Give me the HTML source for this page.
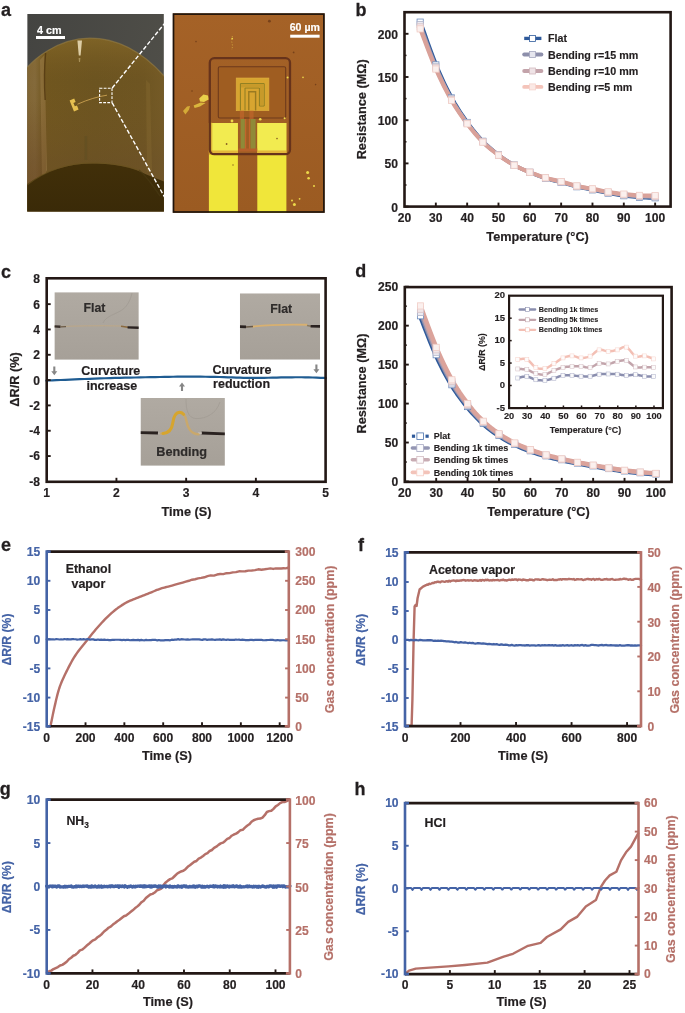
<!DOCTYPE html>
<html lang="en">
<head>
<meta charset="utf-8">
<title>Flexible temperature sensor characterisation</title>
<style>
html,body{margin:0;padding:0;background:#fff;}
body{width:685px;height:1013px;overflow:hidden;}
svg{display:block;font-family:"Liberation Sans",sans-serif;}
</style>
</head>
<body>
<svg width="685" height="1013" viewBox="0 0 685 1013">
<defs><clipPath id="clipA1"><rect x="27.2" y="13.9" width="136.7" height="197.7"/></clipPath><clipPath id="clipA2"><rect x="172.7" y="13.3" width="152" height="199.5"/></clipPath><clipPath id="clipC1"><rect x="54.4" y="292.2" width="84.4" height="67.6"/></clipPath><clipPath id="clipC2"><rect x="239.9" y="293.3" width="80.2" height="66.4"/></clipPath><clipPath id="clipC3"><rect x="140.5" y="397.9" width="84.4" height="67.9"/></clipPath><linearGradient id="gSky" x1="0" y1="0" x2="1" y2="0.3"><stop offset="0" stop-color="#444441"/><stop offset="1" stop-color="#4f4e48"/></linearGradient><linearGradient id="gCyl" x1="0" y1="0" x2="1" y2="0"><stop offset="0" stop-color="#7f632f"/><stop offset="0.10" stop-color="#846a3b"/><stop offset="0.16" stop-color="#70561f"/><stop offset="0.5" stop-color="#6c5420"/><stop offset="0.82" stop-color="#6e5522"/><stop offset="1" stop-color="#765c28"/></linearGradient><linearGradient id="gCylV" x1="0" y1="0" x2="0" y2="1"><stop offset="0" stop-color="#9a7a30" stop-opacity="0.4"/><stop offset="0.25" stop-color="#7a5b20" stop-opacity="0"/><stop offset="0.7" stop-color="#6a4c2c" stop-opacity="0.3"/><stop offset="1" stop-color="#6a4c2c" stop-opacity="0.4"/></linearGradient><linearGradient id="gHole" x1="0" y1="0" x2="0" y2="1"><stop offset="0" stop-color="#412f09"/><stop offset="1" stop-color="#3a2a08"/></linearGradient><linearGradient id="gMic" x1="0" y1="0" x2="0" y2="1"><stop offset="0" stop-color="#a56227"/><stop offset="1" stop-color="#9b5b22"/></linearGradient><linearGradient id="gGrey" x1="0" y1="0" x2="0" y2="1"><stop offset="0" stop-color="#b0aaa2"/><stop offset="1" stop-color="#a6a098"/></linearGradient><linearGradient id="gLL" x1="0" y1="0" x2="0" y2="1"><stop offset="0" stop-color="#6a4420" stop-opacity="0"/><stop offset="1" stop-color="#6a4420" stop-opacity="0.4"/></linearGradient></defs>
<rect width="685" height="1013" fill="#ffffff"/>
<g id="panel-a"><text x="0.9" y="16.1" font-size="18" font-weight="bold" text-anchor="start" fill="#231f20" stroke="#231f20" stroke-width="0.27">a</text><g clip-path="url(#clipA1)"><rect x="27.2" y="13.9" width="136.7" height="197.7" fill="url(#gSky)" stroke="none" stroke-width="1"/><path d="M20 212 L20 77 C 30 60, 58 38.2, 90 38.2 C 122 38.2, 148 56, 170 83 L170 212 Z" fill="url(#gCyl)"/><path d="M20 212 L20 77 C 30 60, 58 38.2, 90 38.2 C 122 38.2, 148 56, 170 83 L170 212 Z" fill="url(#gCylV)"/><path d="M20 77 C 30 60, 58 38.2, 90 38.2 C 122 38.2, 148 56, 170 83" stroke="#9a8246" stroke-width="1.2" fill="none" opacity="0.55"/><path d="M40 60 L44.5 55 L45.5 100 L47 170 L42 180 Z" fill="#9a7c48" opacity="0.55"/><path d="M27 100 L47 100 L46 172 L27 190 Z" fill="url(#gLL)"/><path d="M45.6 53 C 44 70, 44.2 84, 45.2 100" stroke="#553b12" stroke-width="1.4" fill="none" opacity="0.9"/><path d="M146 80 L150 84 L152 170 L147 172 Z" fill="#8a6c35" opacity="0.35"/><path d="M77.4 40.4 L82 40.6 L80.6 55.6 L78.8 55.6 Z" fill="#e8d9b4" opacity="0.9"/><path d="M78.6 58 L80.4 58 L80 62 L79 62 Z" fill="#c9b27a" opacity="0.6"/><path d="M20 212 L20 190 C 40 172, 65 163.4, 93 163.4 C 116 163.4, 134 168, 141 172 C 150 176.5, 158 179, 170 184 L170 212 Z" fill="url(#gHole)"/><path d="M27 185 C 45 171, 68 163, 93 163 C 116 163, 134 167.6, 141 171.6" stroke="#6a5320" stroke-width="1.2" fill="none" opacity="0.7"/><path d="M139 170 C 146 176, 152 184, 160 196" stroke="#4a3a14" stroke-width="1.4" fill="none" opacity="0.6"/><rect x="84.6" y="136" width="2.6" height="24" fill="#5d4d22" stroke="none" stroke-width="1" opacity="0.5"/><path d="M77.5 104.2 C 88 99.5, 98 96.5, 107 95.2" stroke="#c9a050" stroke-width="0.9" fill="none"/><path d="M69.6 100.4 L74.2 98.6 L75.6 102 L73.4 103 L74.8 106.2 L77 105.4 L78.6 109.4 L74 111.4 L72.4 107.6 Z" fill="#e6c050"/><rect x="99.6" y="88.2" width="12.4" height="14.4" fill="none" stroke="#ffffff" stroke-width="1.1" stroke-dasharray="2.8 1.3"/></g><line x1="112.2" y1="88" x2="172.6" y2="13.6" stroke="#ffffff" stroke-width="1.4" stroke-dasharray="4.2 2.0"/><line x1="112.2" y1="102.8" x2="172.6" y2="211.6" stroke="#ffffff" stroke-width="1.4" stroke-dasharray="4.2 2.0"/><rect x="36" y="36" width="29" height="3" fill="#ffffff" stroke="none" stroke-width="1"/><text x="49.2" y="34" font-size="10.8" font-weight="bold" text-anchor="middle" fill="#ffffff" stroke="#ffffff" stroke-width="0.16">4 cm</text><g clip-path="url(#clipA2)"><rect x="172.7" y="13.2" width="152" height="200" fill="url(#gMic)" stroke="none" stroke-width="1"/><rect x="208.9" y="123" width="29" height="90" fill="#f0e63a" stroke="none" stroke-width="1"/><rect x="257.3" y="123" width="29.1" height="90" fill="#f0e63a" stroke="none" stroke-width="1"/><rect x="208.9" y="123" width="29" height="30.4" fill="#f4ee62" stroke="none" stroke-width="1" opacity="0.55"/><rect x="257.3" y="123" width="29.1" height="30.4" fill="#f4ee62" stroke="none" stroke-width="1" opacity="0.55"/><rect x="208.9" y="150.5" width="29" height="4" fill="#d98c28" stroke="none" stroke-width="1" opacity="0.55"/><rect x="257.3" y="150.5" width="29.1" height="4" fill="#d98c28" stroke="none" stroke-width="1" opacity="0.55"/><rect x="208.9" y="122.4" width="3.4" height="32" fill="#c98c28" stroke="none" stroke-width="1" opacity="0.6"/><rect x="218.3" y="66.8" width="67.4" height="51.2" fill="#9f5d21" stroke="#6e3a1c" stroke-width="1.1" rx="1.5"/><rect x="236.2" y="78" width="32.7" height="32.7" fill="#d8a530" stroke="none" stroke-width="1"/><rect x="236.2" y="78" width="32.7" height="32.7" fill="none" stroke="#e0b040" stroke-width="0.6"/><path d="M240.4 110.5 L240.4 83.6 L264.2 83.6 L264.2 106 L259.4 106 L259.4 88 L245 88 L245 110.5" stroke="#8c7d22" stroke-width="1.0" fill="none"/><path d="M248.8 110.5 L248.8 91.8 L255.6 91.8 L255.6 110.5" stroke="#9a7a20" stroke-width="1.4" fill="none"/><rect x="241" y="84.2" width="22.6" height="3.2" fill="#c79a2a" stroke="none" stroke-width="1"/><rect x="260" y="84.2" width="3.6" height="21.2" fill="#c79a2a" stroke="none" stroke-width="1"/><rect x="239.8" y="110.7" width="4.2" height="8.6" fill="#c0662c" stroke="none" stroke-width="1" opacity="0.7"/><rect x="249.4" y="110.7" width="4.2" height="8.6" fill="#c0662c" stroke="none" stroke-width="1" opacity="0.7"/><rect x="240.6" y="119" width="4.2" height="30" fill="#8f8a38" stroke="none" stroke-width="1"/><rect x="250.4" y="119" width="5.2" height="30" fill="#8f8a38" stroke="none" stroke-width="1"/><rect x="245" y="119" width="1.2" height="30" fill="#c0662c" stroke="none" stroke-width="1"/><rect x="248.9" y="119" width="1.2" height="30" fill="#c0662c" stroke="none" stroke-width="1"/><rect x="238.2" y="148.5" width="19" height="3" fill="#b5602a" stroke="none" stroke-width="1"/><rect x="209.8" y="58.2" width="80.2" height="96" fill="none" stroke="#67331b" stroke-width="2.3" rx="4.5"/><path d="M199.2 98.6 L203.4 94.6 L208 95.4 L208.6 99.6 L204 102 L200 101.6 Z" fill="#e9d04a"/><path d="M183 111 L187 106.6 L190 106 L189 109.8 L185.4 114.4 Z" fill="#d9b23a" opacity="0.9"/><path d="M193.6 105.4 L200.6 102.6 L205.6 103 L200 106.4 L194.6 108 Z" fill="#e0c040" opacity="0.9"/><circle cx="307.6" cy="172.4" r="1.5" fill="#ecd84a"/><circle cx="308.6" cy="178.2" r="1.3" fill="#ecd84a"/><circle cx="314.0" cy="186.0" r="1.0" fill="#ecd84a"/><circle cx="294.4" cy="204.6" r="1.5" fill="#ecd84a"/><circle cx="292.0" cy="200.6" r="1.0" fill="#ecd84a"/><circle cx="299.6" cy="198.8" r="0.9" fill="#ecd84a"/><circle cx="303.0" cy="77.4" r="0.8" fill="#ecd84a"/><circle cx="287.6" cy="77.6" r="1.0" fill="#ecd84a"/><circle cx="232.2" cy="38.6" r="0.9" fill="#ecd84a"/><circle cx="260.2" cy="119.2" r="1.3" fill="#ecd84a"/><circle cx="284.6" cy="118.2" r="1.0" fill="#ecd84a"/><circle cx="232.0" cy="121.0" r="1.4" fill="#ecd84a"/><circle cx="269.4" cy="21.2" r="1.4" fill="#6b3a18" opacity="0.8"/><circle cx="196" cy="41.6" r="0.8" fill="#6b3a18" opacity="0.8"/><circle cx="293.6" cy="52.4" r="0.9" fill="#6b3a18" opacity="0.8"/><circle cx="315.6" cy="84.6" r="0.8" fill="#6b3a18" opacity="0.8"/><circle cx="226.6" cy="144.0" r="0.9" fill="#6b3a18" opacity="0.8"/><circle cx="277.0" cy="138.6" r="0.8" fill="#6b3a18" opacity="0.8"/><circle cx="233.0" cy="165.0" r="0.7" fill="#6b3a18" opacity="0.8"/><circle cx="192.0" cy="91.0" r="0.8" fill="#6b3a18" opacity="0.8"/><path d="M232.4 36 L231.6 41 L232.6 46 L231.8 50" stroke="#d9b040" stroke-width="1.0" fill="none" opacity="0.7" stroke-dasharray="1.2 1.6"/></g><rect x="173.5" y="14.1" width="150.4" height="197.9" fill="none" stroke="#1f140c" stroke-width="1.7"/><rect x="290.2" y="34.7" width="29.4" height="3" fill="#ffffff" stroke="none" stroke-width="1"/><text x="304.8" y="30.6" font-size="10.6" font-weight="bold" text-anchor="middle" fill="#ffffff" stroke="#ffffff" stroke-width="0.16">60 µm</text></g>
<g id="panel-b"><text x="355.5" y="16.2" font-size="18" font-weight="bold" text-anchor="start" fill="#231f20" stroke="#231f20" stroke-width="0.27">b</text><path d="M420.87 22.44 L422.57 27.2 L424.93 33.89 L427.72 41.76 L430.73 50.09 L433.74 58.15 L436.53 65.2 L439.14 71.37 L441.75 77.24 L444.36 82.85 L446.97 88.2 L449.58 93.31 L452.19 98.21 L454.81 102.85 L457.42 107.23 L460.03 111.36 L462.64 115.3 L465.25 119.08 L467.86 122.75 L470.47 126.28 L473.08 129.65 L475.69 132.86 L478.3 135.91 L480.91 138.82 L483.52 141.58 L486.14 144.17 L488.75 146.59 L491.36 148.85 L493.97 151 L496.58 153.06 L499.19 155.06 L501.8 157 L504.41 158.86 L507.02 160.63 L509.63 162.32 L512.24 163.92 L514.86 165.43 L517.47 166.83 L520.08 168.13 L522.69 169.34 L525.3 170.48 L527.91 171.59 L530.52 172.69 L533.13 173.76 L535.74 174.81 L538.35 175.82 L540.96 176.78 L543.57 177.7 L546.19 178.56 L548.8 179.35 L551.41 180.06 L554.02 180.73 L556.63 181.38 L559.24 182.03 L561.85 182.71 L564.46 183.43 L567.07 184.18 L569.68 184.93 L572.29 185.67 L574.9 186.38 L577.52 187.03 L580.13 187.61 L582.74 188.15 L585.35 188.65 L587.96 189.13 L590.57 189.62 L593.18 190.14 L595.79 190.68 L598.4 191.25 L601.01 191.81 L603.62 192.37 L606.23 192.91 L608.85 193.42 L611.46 193.91 L614.07 194.38 L616.68 194.83 L619.29 195.25 L621.9 195.65 L624.51 196.01 L627.12 196.34 L629.73 196.65 L632.34 196.92 L634.95 197.17 L637.56 197.38 L640.18 197.57 L642.97 197.72 L645.98 197.84 L648.99 197.93 L651.78 197.99 L654.14 198.04 L655.84 198.09" fill="none" stroke="#2f5a9b" stroke-width="3.4" stroke-linejoin="round" stroke-linecap="round"/><path d="M420.17 24.49 L421.87 29.16 L424.23 35.7 L427.02 43.4 L430.03 51.55 L433.04 59.44 L435.83 66.36 L438.44 72.4 L441.05 78.17 L443.66 83.68 L446.27 88.94 L448.88 93.97 L451.5 98.79 L454.11 103.35 L456.72 107.65 L459.33 111.72 L461.94 115.6 L464.55 119.32 L467.16 122.93 L469.77 126.42 L472.38 129.75 L474.99 132.93 L477.6 135.96 L480.21 138.85 L482.82 141.58 L485.44 144.15 L488.05 146.54 L490.66 148.77 L493.27 150.89 L495.88 152.93 L498.49 154.91 L501.1 156.83 L503.71 158.67 L506.32 160.42 L508.93 162.08 L511.54 163.66 L514.15 165.16 L516.77 166.55 L519.38 167.83 L521.99 169.02 L524.6 170.15 L527.21 171.25 L529.82 172.33 L532.43 173.39 L535.04 174.41 L537.65 175.4 L540.26 176.34 L542.87 177.24 L545.49 178.08 L548.1 178.85 L550.71 179.54 L553.32 180.18 L555.93 180.81 L558.54 181.44 L561.15 182.11 L563.76 182.82 L566.37 183.57 L568.98 184.33 L571.59 185.07 L574.2 185.78 L576.82 186.43 L579.43 187.01 L582.04 187.53 L584.65 188.02 L587.26 188.5 L589.87 188.97 L592.48 189.48 L595.09 190.01 L597.7 190.56 L600.31 191.11 L602.92 191.65 L605.53 192.18 L608.14 192.67 L610.76 193.13 L613.37 193.58 L615.98 194.01 L618.59 194.42 L621.2 194.79 L623.81 195.14 L626.42 195.45 L629.03 195.74 L631.64 196 L634.25 196.23 L636.86 196.43 L639.48 196.6 L642.27 196.74 L645.28 196.84 L648.29 196.91 L651.08 196.96 L653.44 197 L655.14 197.03" fill="none" stroke="#8d8fab" stroke-width="3.6" stroke-linejoin="round" stroke-linecap="round"/><path d="M420.17 26.85 L421.87 31.41 L424.23 37.81 L427.02 45.34 L430.03 53.31 L433.04 61.03 L435.83 67.81 L438.44 73.74 L441.05 79.4 L443.66 84.81 L446.27 89.98 L448.88 94.93 L451.5 99.66 L454.11 104.15 L456.72 108.38 L459.33 112.37 L461.94 116.19 L464.55 119.85 L467.16 123.41 L469.77 126.86 L472.38 130.16 L474.99 133.31 L477.6 136.32 L480.21 139.18 L482.82 141.89 L485.44 144.42 L488.05 146.78 L490.66 149 L493.27 151.09 L495.88 153.1 L498.49 155.06 L501.1 156.96 L503.71 158.78 L506.32 160.51 L508.93 162.15 L511.54 163.71 L514.15 165.19 L516.77 166.56 L519.38 167.83 L521.99 169.01 L524.6 170.13 L527.21 171.2 L529.82 172.26 L532.43 173.31 L535.04 174.31 L537.65 175.28 L540.26 176.2 L542.87 177.08 L545.49 177.9 L548.1 178.64 L550.71 179.31 L553.32 179.93 L555.93 180.53 L558.54 181.15 L561.15 181.8 L563.76 182.51 L566.37 183.26 L568.98 184.02 L571.59 184.77 L574.2 185.48 L576.82 186.12 L579.43 186.7 L582.04 187.21 L584.65 187.69 L587.26 188.16 L589.87 188.62 L592.48 189.11 L595.09 189.63 L597.7 190.17 L600.31 190.7 L602.92 191.23 L605.53 191.74 L608.14 192.21 L610.76 192.66 L613.37 193.09 L615.98 193.5 L618.59 193.88 L621.2 194.24 L623.81 194.56 L626.42 194.86 L629.03 195.13 L631.64 195.38 L634.25 195.59 L636.86 195.78 L639.48 195.94 L642.27 196.06 L645.28 196.14 L648.29 196.19 L651.08 196.23 L653.44 196.25 L655.14 196.28" fill="none" stroke="#c3a3aa" stroke-width="3.8" stroke-linejoin="round" stroke-linecap="round"/><path d="M420.17 28.88 L421.87 33.35 L424.23 39.62 L427.02 47 L430.03 54.82 L433.04 62.4 L435.83 69.05 L438.44 74.88 L441.05 80.45 L443.66 85.78 L446.27 90.88 L448.88 95.75 L451.5 100.41 L454.11 104.84 L456.72 109 L459.33 112.94 L461.94 116.7 L464.55 120.31 L467.16 123.83 L469.77 127.24 L472.38 130.51 L474.99 133.64 L477.6 136.62 L480.21 139.46 L482.82 142.15 L485.44 144.66 L488.05 147 L490.66 149.19 L493.27 151.26 L495.88 153.25 L498.49 155.19 L501.1 157.07 L503.71 158.87 L506.32 160.58 L508.93 162.21 L511.54 163.75 L514.15 165.21 L516.77 166.57 L519.38 167.83 L521.99 168.99 L524.6 170.1 L527.21 171.17 L529.82 172.21 L532.43 173.24 L535.04 174.23 L537.65 175.18 L540.26 176.08 L542.87 176.94 L545.49 177.74 L548.1 178.47 L550.71 179.12 L553.32 179.72 L555.93 180.3 L558.54 180.9 L561.15 181.54 L563.76 182.25 L566.37 183 L568.98 183.76 L571.59 184.51 L574.2 185.22 L576.82 185.86 L579.43 186.43 L582.04 186.94 L584.65 187.41 L587.26 187.87 L589.87 188.32 L592.48 188.8 L595.09 189.31 L597.7 189.83 L600.31 190.36 L602.92 190.87 L605.53 191.37 L608.14 191.83 L610.76 192.26 L613.37 192.67 L615.98 193.06 L618.59 193.42 L621.2 193.76 L623.81 194.07 L626.42 194.35 L629.03 194.61 L631.64 194.84 L634.25 195.05 L636.86 195.22 L639.48 195.37 L642.27 195.47 L645.28 195.54 L648.29 195.58 L651.08 195.6 L653.44 195.61 L655.14 195.63" fill="none" stroke="#d9a199" stroke-width="4" stroke-linejoin="round" stroke-linecap="round"/><rect x="417.06" y="19.04" width="6.2" height="6.2" fill="#ffffff" stroke="#6d8cbd" stroke-width="0.8"/><rect x="432.73" y="61.8" width="6.2" height="6.2" fill="#ffffff" stroke="#6d8cbd" stroke-width="0.8"/><rect x="448.39" y="94.81" width="6.2" height="6.2" fill="#ffffff" stroke="#6d8cbd" stroke-width="0.8"/><rect x="464.06" y="119.35" width="6.2" height="6.2" fill="#ffffff" stroke="#6d8cbd" stroke-width="0.8"/><rect x="479.72" y="138.18" width="6.2" height="6.2" fill="#ffffff" stroke="#6d8cbd" stroke-width="0.8"/><rect x="495.39" y="151.66" width="6.2" height="6.2" fill="#ffffff" stroke="#6d8cbd" stroke-width="0.8"/><rect x="511.05" y="162.03" width="6.2" height="6.2" fill="#ffffff" stroke="#6d8cbd" stroke-width="0.8"/><rect x="526.72" y="169.29" width="6.2" height="6.2" fill="#ffffff" stroke="#6d8cbd" stroke-width="0.8"/><rect x="542.38" y="175.16" width="6.2" height="6.2" fill="#ffffff" stroke="#6d8cbd" stroke-width="0.8"/><rect x="558.05" y="179.31" width="6.2" height="6.2" fill="#ffffff" stroke="#6d8cbd" stroke-width="0.8"/><rect x="573.72" y="183.63" width="6.2" height="6.2" fill="#ffffff" stroke="#6d8cbd" stroke-width="0.8"/><rect x="589.38" y="186.74" width="6.2" height="6.2" fill="#ffffff" stroke="#6d8cbd" stroke-width="0.8"/><rect x="605.04" y="190.02" width="6.2" height="6.2" fill="#ffffff" stroke="#6d8cbd" stroke-width="0.8"/><rect x="620.71" y="192.61" width="6.2" height="6.2" fill="#ffffff" stroke="#6d8cbd" stroke-width="0.8"/><rect x="636.38" y="194.17" width="6.2" height="6.2" fill="#ffffff" stroke="#6d8cbd" stroke-width="0.8"/><rect x="652.04" y="194.69" width="6.2" height="6.2" fill="#ffffff" stroke="#6d8cbd" stroke-width="0.8"/><rect x="417.06" y="21.39" width="6.2" height="6.2" fill="#ecebf1" stroke="#b3b4c9" stroke-width="0.8"/><rect x="432.73" y="63.26" width="6.2" height="6.2" fill="#ecebf1" stroke="#b3b4c9" stroke-width="0.8"/><rect x="448.39" y="95.69" width="6.2" height="6.2" fill="#ecebf1" stroke="#b3b4c9" stroke-width="0.8"/><rect x="464.06" y="119.83" width="6.2" height="6.2" fill="#ecebf1" stroke="#b3b4c9" stroke-width="0.8"/><rect x="479.72" y="138.48" width="6.2" height="6.2" fill="#ecebf1" stroke="#b3b4c9" stroke-width="0.8"/><rect x="495.39" y="151.81" width="6.2" height="6.2" fill="#ecebf1" stroke="#b3b4c9" stroke-width="0.8"/><rect x="511.05" y="162.06" width="6.2" height="6.2" fill="#ecebf1" stroke="#b3b4c9" stroke-width="0.8"/><rect x="526.72" y="169.23" width="6.2" height="6.2" fill="#ecebf1" stroke="#b3b4c9" stroke-width="0.8"/><rect x="542.38" y="174.98" width="6.2" height="6.2" fill="#ecebf1" stroke="#b3b4c9" stroke-width="0.8"/><rect x="558.05" y="179.01" width="6.2" height="6.2" fill="#ecebf1" stroke="#b3b4c9" stroke-width="0.8"/><rect x="573.72" y="183.33" width="6.2" height="6.2" fill="#ecebf1" stroke="#b3b4c9" stroke-width="0.8"/><rect x="589.38" y="186.38" width="6.2" height="6.2" fill="#ecebf1" stroke="#b3b4c9" stroke-width="0.8"/><rect x="605.04" y="189.57" width="6.2" height="6.2" fill="#ecebf1" stroke="#b3b4c9" stroke-width="0.8"/><rect x="620.71" y="192.04" width="6.2" height="6.2" fill="#ecebf1" stroke="#b3b4c9" stroke-width="0.8"/><rect x="636.38" y="193.5" width="6.2" height="6.2" fill="#ecebf1" stroke="#b3b4c9" stroke-width="0.8"/><rect x="652.04" y="193.93" width="6.2" height="6.2" fill="#ecebf1" stroke="#b3b4c9" stroke-width="0.8"/><rect x="417.06" y="23.75" width="6.2" height="6.2" fill="#f1e6e8" stroke="#d9c4c8" stroke-width="0.8"/><rect x="432.73" y="64.71" width="6.2" height="6.2" fill="#f1e6e8" stroke="#d9c4c8" stroke-width="0.8"/><rect x="448.39" y="96.56" width="6.2" height="6.2" fill="#f1e6e8" stroke="#d9c4c8" stroke-width="0.8"/><rect x="464.06" y="120.31" width="6.2" height="6.2" fill="#f1e6e8" stroke="#d9c4c8" stroke-width="0.8"/><rect x="479.72" y="138.79" width="6.2" height="6.2" fill="#f1e6e8" stroke="#d9c4c8" stroke-width="0.8"/><rect x="495.39" y="151.96" width="6.2" height="6.2" fill="#f1e6e8" stroke="#d9c4c8" stroke-width="0.8"/><rect x="511.05" y="162.09" width="6.2" height="6.2" fill="#f1e6e8" stroke="#d9c4c8" stroke-width="0.8"/><rect x="526.72" y="169.16" width="6.2" height="6.2" fill="#f1e6e8" stroke="#d9c4c8" stroke-width="0.8"/><rect x="542.38" y="174.8" width="6.2" height="6.2" fill="#f1e6e8" stroke="#d9c4c8" stroke-width="0.8"/><rect x="558.05" y="178.7" width="6.2" height="6.2" fill="#f1e6e8" stroke="#d9c4c8" stroke-width="0.8"/><rect x="573.72" y="183.02" width="6.2" height="6.2" fill="#f1e6e8" stroke="#d9c4c8" stroke-width="0.8"/><rect x="589.38" y="186.01" width="6.2" height="6.2" fill="#f1e6e8" stroke="#d9c4c8" stroke-width="0.8"/><rect x="605.04" y="189.11" width="6.2" height="6.2" fill="#f1e6e8" stroke="#d9c4c8" stroke-width="0.8"/><rect x="620.71" y="191.46" width="6.2" height="6.2" fill="#f1e6e8" stroke="#d9c4c8" stroke-width="0.8"/><rect x="636.38" y="192.84" width="6.2" height="6.2" fill="#f1e6e8" stroke="#d9c4c8" stroke-width="0.8"/><rect x="652.04" y="193.18" width="6.2" height="6.2" fill="#f1e6e8" stroke="#d9c4c8" stroke-width="0.8"/><rect x="417.06" y="25.78" width="6.2" height="6.2" fill="#fbf0ee" stroke="#f1cdc6" stroke-width="0.8"/><rect x="432.73" y="65.95" width="6.2" height="6.2" fill="#fbf0ee" stroke="#f1cdc6" stroke-width="0.8"/><rect x="448.39" y="97.31" width="6.2" height="6.2" fill="#fbf0ee" stroke="#f1cdc6" stroke-width="0.8"/><rect x="464.06" y="120.73" width="6.2" height="6.2" fill="#fbf0ee" stroke="#f1cdc6" stroke-width="0.8"/><rect x="479.72" y="139.05" width="6.2" height="6.2" fill="#fbf0ee" stroke="#f1cdc6" stroke-width="0.8"/><rect x="495.39" y="152.09" width="6.2" height="6.2" fill="#fbf0ee" stroke="#f1cdc6" stroke-width="0.8"/><rect x="511.05" y="162.11" width="6.2" height="6.2" fill="#fbf0ee" stroke="#f1cdc6" stroke-width="0.8"/><rect x="526.72" y="169.11" width="6.2" height="6.2" fill="#fbf0ee" stroke="#f1cdc6" stroke-width="0.8"/><rect x="542.38" y="174.64" width="6.2" height="6.2" fill="#fbf0ee" stroke="#f1cdc6" stroke-width="0.8"/><rect x="558.05" y="178.44" width="6.2" height="6.2" fill="#fbf0ee" stroke="#f1cdc6" stroke-width="0.8"/><rect x="573.72" y="182.76" width="6.2" height="6.2" fill="#fbf0ee" stroke="#f1cdc6" stroke-width="0.8"/><rect x="589.38" y="185.7" width="6.2" height="6.2" fill="#fbf0ee" stroke="#f1cdc6" stroke-width="0.8"/><rect x="605.04" y="188.73" width="6.2" height="6.2" fill="#fbf0ee" stroke="#f1cdc6" stroke-width="0.8"/><rect x="620.71" y="190.97" width="6.2" height="6.2" fill="#fbf0ee" stroke="#f1cdc6" stroke-width="0.8"/><rect x="636.38" y="192.27" width="6.2" height="6.2" fill="#fbf0ee" stroke="#f1cdc6" stroke-width="0.8"/><rect x="652.04" y="192.53" width="6.2" height="6.2" fill="#fbf0ee" stroke="#f1cdc6" stroke-width="0.8"/><rect x="404.5" y="12.2" width="266.1" height="194.4" fill="none" stroke="#231815" stroke-width="2.6"/><line x1="404.5" y1="206.6" x2="408.5" y2="206.6" stroke="#231815" stroke-width="1.9"/><line x1="404.5" y1="163.4" x2="408.5" y2="163.4" stroke="#231815" stroke-width="1.9"/><line x1="404.5" y1="120.2" x2="408.5" y2="120.2" stroke="#231815" stroke-width="1.9"/><line x1="404.5" y1="77" x2="408.5" y2="77" stroke="#231815" stroke-width="1.9"/><line x1="404.5" y1="33.8" x2="408.5" y2="33.8" stroke="#231815" stroke-width="1.9"/><line x1="404.5" y1="185" x2="406.5" y2="185" stroke="#231815" stroke-width="1.5"/><line x1="404.5" y1="141.8" x2="406.5" y2="141.8" stroke="#231815" stroke-width="1.5"/><line x1="404.5" y1="98.6" x2="406.5" y2="98.6" stroke="#231815" stroke-width="1.5"/><line x1="404.5" y1="55.4" x2="406.5" y2="55.4" stroke="#231815" stroke-width="1.5"/><line x1="435.83" y1="206.6" x2="435.83" y2="202.6" stroke="#231815" stroke-width="1.9"/><line x1="467.16" y1="206.6" x2="467.16" y2="202.6" stroke="#231815" stroke-width="1.9"/><line x1="498.49" y1="206.6" x2="498.49" y2="202.6" stroke="#231815" stroke-width="1.9"/><line x1="529.82" y1="206.6" x2="529.82" y2="202.6" stroke="#231815" stroke-width="1.9"/><line x1="561.15" y1="206.6" x2="561.15" y2="202.6" stroke="#231815" stroke-width="1.9"/><line x1="592.48" y1="206.6" x2="592.48" y2="202.6" stroke="#231815" stroke-width="1.9"/><line x1="623.81" y1="206.6" x2="623.81" y2="202.6" stroke="#231815" stroke-width="1.9"/><line x1="655.14" y1="206.6" x2="655.14" y2="202.6" stroke="#231815" stroke-width="1.9"/><text x="397.9" y="211.63" font-size="12.1" font-weight="bold" text-anchor="end" fill="#231f20" stroke="#231f20" stroke-width="0.18">0</text><text x="397.9" y="168.43" font-size="12.1" font-weight="bold" text-anchor="end" fill="#231f20" stroke="#231f20" stroke-width="0.18">50</text><text x="397.9" y="125.23" font-size="12.1" font-weight="bold" text-anchor="end" fill="#231f20" stroke="#231f20" stroke-width="0.18">100</text><text x="397.9" y="82.03" font-size="12.1" font-weight="bold" text-anchor="end" fill="#231f20" stroke="#231f20" stroke-width="0.18">150</text><text x="397.9" y="38.83" font-size="12.1" font-weight="bold" text-anchor="end" fill="#231f20" stroke="#231f20" stroke-width="0.18">200</text><text x="404.5" y="221.8" font-size="12.1" font-weight="bold" text-anchor="middle" fill="#231f20" stroke="#231f20" stroke-width="0.18">20</text><text x="435.83" y="221.8" font-size="12.1" font-weight="bold" text-anchor="middle" fill="#231f20" stroke="#231f20" stroke-width="0.18">30</text><text x="467.16" y="221.8" font-size="12.1" font-weight="bold" text-anchor="middle" fill="#231f20" stroke="#231f20" stroke-width="0.18">40</text><text x="498.49" y="221.8" font-size="12.1" font-weight="bold" text-anchor="middle" fill="#231f20" stroke="#231f20" stroke-width="0.18">50</text><text x="529.82" y="221.8" font-size="12.1" font-weight="bold" text-anchor="middle" fill="#231f20" stroke="#231f20" stroke-width="0.18">60</text><text x="561.15" y="221.8" font-size="12.1" font-weight="bold" text-anchor="middle" fill="#231f20" stroke="#231f20" stroke-width="0.18">70</text><text x="592.48" y="221.8" font-size="12.1" font-weight="bold" text-anchor="middle" fill="#231f20" stroke="#231f20" stroke-width="0.18">80</text><text x="623.81" y="221.8" font-size="12.1" font-weight="bold" text-anchor="middle" fill="#231f20" stroke="#231f20" stroke-width="0.18">90</text><text x="655.14" y="221.8" font-size="12.1" font-weight="bold" text-anchor="middle" fill="#231f20" stroke="#231f20" stroke-width="0.18">100</text><text x="537.6" y="241" font-size="12.2" font-weight="bold" text-anchor="middle" fill="#231f20" stroke="#231f20" stroke-width="0.18" textLength="102.53" lengthAdjust="spacingAndGlyphs">Temperature (°C)</text><text x="366.3" y="109.3" font-size="12.2" font-weight="bold" text-anchor="middle" fill="#231f20" stroke="#231f20" stroke-width="0.18" transform="rotate(-90 366.3 109.3)" textLength="100.11" lengthAdjust="spacingAndGlyphs">Resistance (MΩ)</text><line x1="524.2" y1="38.4" x2="541.4" y2="38.4" stroke="#2f5a9b" stroke-width="3.3"/><rect x="529.6" y="35.4" width="6" height="6" fill="#ffffff" stroke="#2f5a9b" stroke-width="0.8"/><text x="548" y="42.4" font-size="11.4" font-weight="bold" text-anchor="start" fill="#231f20" stroke="#231f20" stroke-width="0.17" textLength="19.05" lengthAdjust="spacingAndGlyphs">Flat</text><line x1="524.2" y1="54.5" x2="541.4" y2="54.5" stroke="#8d8fab" stroke-width="3.9" stroke-linecap="round"/><rect x="529.6" y="51.5" width="6" height="6" fill="#e6e6ee" stroke="#a5a7bf" stroke-width="0.8"/><text x="548" y="58.5" font-size="11.4" font-weight="bold" text-anchor="start" fill="#231f20" stroke="#231f20" stroke-width="0.17" textLength="90.22" lengthAdjust="spacingAndGlyphs">Bending r=15 mm</text><line x1="524.2" y1="71" x2="541.4" y2="71" stroke="#c3a3aa" stroke-width="3.9" stroke-linecap="round"/><rect x="529.6" y="68" width="6" height="6" fill="#efe3e6" stroke="#d2babf" stroke-width="0.8"/><text x="548" y="75" font-size="11.4" font-weight="bold" text-anchor="start" fill="#231f20" stroke="#231f20" stroke-width="0.17" textLength="90.22" lengthAdjust="spacingAndGlyphs">Bending r=10 mm</text><line x1="524.2" y1="86.9" x2="541.4" y2="86.9" stroke="#f4c4ba" stroke-width="3.9" stroke-linecap="round"/><rect x="529.6" y="83.9" width="6" height="6" fill="#fbe9e5" stroke="#f6d3cc" stroke-width="0.8"/><text x="548" y="90.9" font-size="11.4" font-weight="bold" text-anchor="start" fill="#231f20" stroke="#231f20" stroke-width="0.17" textLength="84.26" lengthAdjust="spacingAndGlyphs">Bending r=5 mm</text></g>
<g id="panel-c"><text x="1" y="277.5" font-size="18" font-weight="bold" text-anchor="start" fill="#231f20" stroke="#231f20" stroke-width="0.27">c</text><path d="M46.4 380.6 L48.89 380.49 L52.28 380.35 L56.32 380.18 L60.79 379.99 L65.42 379.79 L70 379.6 L74.63 379.41 L79.53 379.2 L84.6 378.99 L89.76 378.78 L94.93 378.58 L100 378.4 L105 378.24 L110 378.1 L115 377.96 L120 377.84 L125 377.72 L130 377.6 L135.05 377.49 L140.15 377.38 L145.25 377.27 L150.3 377.18 L155.23 377.09 L160 377 L164.53 376.91 L168.85 376.83 L173.06 376.74 L177.26 376.67 L181.54 376.62 L186 376.6 L190.71 376.6 L195.59 376.63 L200.56 376.68 L205.52 376.74 L210.36 376.81 L215 376.9 L219.46 377.01 L223.81 377.15 L228.06 377.31 L232.19 377.46 L236.17 377.6 L240 377.7 L243.56 377.78 L246.85 377.84 L250 377.88 L253.15 377.91 L256.44 377.91 L260 377.9 L263.94 377.85 L268.15 377.77 L272.5 377.67 L276.85 377.56 L281.06 377.47 L285 377.4 L288.61 377.35 L292 377.31 L295.25 377.27 L298.44 377.26 L301.67 377.27 L305 377.3 L308.69 377.38 L312.7 377.5 L316.75 377.64 L320.52 377.79 L323.7 377.91 L326 378" fill="none" stroke="#1f5c92" stroke-width="2.2" stroke-linejoin="round" stroke-linecap="round"/><rect x="46.7" y="278.3" width="278.9" height="203.5" fill="none" stroke="#231815" stroke-width="2.6"/><line x1="46.7" y1="456.06" x2="50.7" y2="456.06" stroke="#231815" stroke-width="1.9"/><line x1="46.7" y1="430.74" x2="50.7" y2="430.74" stroke="#231815" stroke-width="1.9"/><line x1="46.7" y1="405.42" x2="50.7" y2="405.42" stroke="#231815" stroke-width="1.9"/><line x1="46.7" y1="380.1" x2="50.7" y2="380.1" stroke="#231815" stroke-width="1.9"/><line x1="46.7" y1="354.78" x2="50.7" y2="354.78" stroke="#231815" stroke-width="1.9"/><line x1="46.7" y1="329.46" x2="50.7" y2="329.46" stroke="#231815" stroke-width="1.9"/><line x1="46.7" y1="304.14" x2="50.7" y2="304.14" stroke="#231815" stroke-width="1.9"/><line x1="116.43" y1="481.8" x2="116.43" y2="477.8" stroke="#231815" stroke-width="1.9"/><line x1="186.15" y1="481.8" x2="186.15" y2="477.8" stroke="#231815" stroke-width="1.9"/><line x1="255.88" y1="481.8" x2="255.88" y2="477.8" stroke="#231815" stroke-width="1.9"/><text x="40.1" y="485.81" font-size="12.1" font-weight="bold" text-anchor="end" fill="#231f20" stroke="#231f20" stroke-width="0.18">-8</text><text x="40.1" y="460.49" font-size="12.1" font-weight="bold" text-anchor="end" fill="#231f20" stroke="#231f20" stroke-width="0.18">-6</text><text x="40.1" y="435.17" font-size="12.1" font-weight="bold" text-anchor="end" fill="#231f20" stroke="#231f20" stroke-width="0.18">-4</text><text x="40.1" y="409.85" font-size="12.1" font-weight="bold" text-anchor="end" fill="#231f20" stroke="#231f20" stroke-width="0.18">-2</text><text x="40.1" y="384.53" font-size="12.1" font-weight="bold" text-anchor="end" fill="#231f20" stroke="#231f20" stroke-width="0.18">0</text><text x="40.1" y="359.21" font-size="12.1" font-weight="bold" text-anchor="end" fill="#231f20" stroke="#231f20" stroke-width="0.18">2</text><text x="40.1" y="333.89" font-size="12.1" font-weight="bold" text-anchor="end" fill="#231f20" stroke="#231f20" stroke-width="0.18">4</text><text x="40.1" y="308.57" font-size="12.1" font-weight="bold" text-anchor="end" fill="#231f20" stroke="#231f20" stroke-width="0.18">6</text><text x="40.1" y="283.25" font-size="12.1" font-weight="bold" text-anchor="end" fill="#231f20" stroke="#231f20" stroke-width="0.18">8</text><text x="46.7" y="496.6" font-size="12.1" font-weight="bold" text-anchor="middle" fill="#231f20" stroke="#231f20" stroke-width="0.18">1</text><text x="116.43" y="496.6" font-size="12.1" font-weight="bold" text-anchor="middle" fill="#231f20" stroke="#231f20" stroke-width="0.18">2</text><text x="186.15" y="496.6" font-size="12.1" font-weight="bold" text-anchor="middle" fill="#231f20" stroke="#231f20" stroke-width="0.18">3</text><text x="255.88" y="496.6" font-size="12.1" font-weight="bold" text-anchor="middle" fill="#231f20" stroke="#231f20" stroke-width="0.18">4</text><text x="325.6" y="496.6" font-size="12.1" font-weight="bold" text-anchor="middle" fill="#231f20" stroke="#231f20" stroke-width="0.18">5</text><text x="186.5" y="516" font-size="12.2" font-weight="bold" text-anchor="middle" fill="#231f20" stroke="#231f20" stroke-width="0.18" textLength="50.02" lengthAdjust="spacingAndGlyphs">Time (S)</text><text x="18.6" y="379.5" font-size="12.2" font-weight="bold" text-anchor="middle" fill="#231f20" stroke="#231f20" stroke-width="0.18" transform="rotate(-90 18.6 379.5)" textLength="54.44" lengthAdjust="spacingAndGlyphs">ΔR/R (%)</text><g clip-path="url(#clipC1)"><rect x="54.4" y="292.2" width="84.4" height="67.6" fill="url(#gGrey)" stroke="none" stroke-width="1"/><path d="M54.4 326.6 C 75 326.0, 100 325.4, 120 326.0 L127 327.2" stroke="#c0a884" stroke-width="0.9" fill="none"/><path d="M54.4 326.4 L60.5 326.8" stroke="#3a302a" stroke-width="2.4" fill="none"/><path d="M60.5 326.9 L66 326.6" stroke="#6a5a48" stroke-width="1.4" fill="none"/><path d="M121 326.2 L128 327.3" stroke="#8a6a40" stroke-width="1.6" fill="none"/><path d="M127.6 327.4 L138.8 327.8" stroke="#2a2220" stroke-width="2.4" fill="none"/><path d="M103 323 C 106 316, 116 314, 122 310 C 128 306, 131 298, 132 293" stroke="#9a948c" stroke-width="0.5" fill="none"/></g><g clip-path="url(#clipC2)"><rect x="239.9" y="293.3" width="80.2" height="66.4" fill="url(#gGrey)" stroke="none" stroke-width="1"/><path d="M252 326.6 C 270 324.6, 290 324.4, 307.4 324.8" stroke="#d8b070" stroke-width="1.9" fill="none"/><path d="M239.9 326.6 L246 326.9" stroke="#2a2220" stroke-width="2.6" fill="none"/><path d="M246 326.9 L253 326.6" stroke="#6a5a48" stroke-width="1.5" fill="none"/><path d="M307 325.4 L311 326.2" stroke="#8a7a60" stroke-width="1.5" fill="none"/><path d="M310.6 326.2 L320.1 326.4" stroke="#2a2220" stroke-width="2.6" fill="none"/></g><g clip-path="url(#clipC3)"><rect x="140.5" y="397.9" width="84.4" height="67.9" fill="url(#gGrey)" stroke="none" stroke-width="1"/><path d="M140.5 432.6 L158 433.0" stroke="#2a2220" stroke-width="2.8" fill="none"/><path d="M201.6 433.0 L224.9 433.8" stroke="#2a2220" stroke-width="2.8" fill="none"/><path d="M158 433.2 L162 433.6" stroke="#b8b0a8" stroke-width="1.6" fill="none"/><path d="M198 433.4 L201.8 433.0" stroke="#c8c0b8" stroke-width="1.6" fill="none"/><path d="M161 433.6 C 168 433.6, 171.6 430, 172.6 423 C 173.4 416.6, 175.6 412.4, 179.4 412.0 C 183.4 411.8, 185.4 415.6, 186.6 421.4 C 188 428.6, 190.6 433.6, 198.6 434.4" stroke="#c9a86c" stroke-width="2.4" fill="none" stroke-linecap="round"/><path d="M163 433.4 C 168.6 433.2, 171.8 430, 172.8 423 C 173.6 416.6, 175.8 412.6, 179.4 412.2 C 181.2 412.2, 182.6 413, 183.6 414.4" stroke="#d6a52e" stroke-width="3.0" fill="none" stroke-linecap="round"/><path d="M186 399 C 186 410, 188 418, 196 418.6 C 206 418.8, 216 414, 220 402" stroke="#9a948c" stroke-width="0.5" fill="none"/></g><text x="94.4" y="311.9" font-size="12.3" font-weight="bold" text-anchor="middle" fill="#2e2b2a" stroke="#2e2b2a" stroke-width="0.18">Flat</text><text x="281.2" y="313" font-size="12.3" font-weight="bold" text-anchor="middle" fill="#2e2b2a" stroke="#2e2b2a" stroke-width="0.18">Flat</text><text x="181.6" y="456.4" font-size="12.7" font-weight="bold" text-anchor="middle" fill="#2e2b2a" stroke="#2e2b2a" stroke-width="0.19">Bending</text><text x="110.8" y="375.2" font-size="12.5" font-weight="bold" text-anchor="middle" fill="#231f20" stroke="#231f20" stroke-width="0.19">Curvature</text><text x="111.8" y="390" font-size="12.5" font-weight="bold" text-anchor="middle" fill="#231f20" stroke="#231f20" stroke-width="0.19">increase</text><text x="241.9" y="373.6" font-size="12.5" font-weight="bold" text-anchor="middle" fill="#231f20" stroke="#231f20" stroke-width="0.19">Curvature</text><text x="241.6" y="388.3" font-size="12.5" font-weight="bold" text-anchor="middle" fill="#231f20" stroke="#231f20" stroke-width="0.19">reduction</text><path d="M53.25 366.4 L55.35 366.4 L55.35 371.2 L57.3 371.2 L54.3 375.2 L51.3 371.2 L53.25 371.2 Z" fill="#868686"/><path d="M315.35 364.6 L317.45 364.6 L317.45 369.2 L319.4 369.2 L316.4 373.2 L313.4 369.2 L315.35 369.2 Z" fill="#868686"/><path d="M180.95 391 L183.05 391 L183.05 386.4 L185 386.4 L182 382.4 L179 386.4 L180.95 386.4 Z" fill="#868686"/></g>
<g id="panel-d"><text x="355.3" y="277.2" font-size="18" font-weight="bold" text-anchor="start" fill="#231f20" stroke="#231f20" stroke-width="0.27">d</text><path d="M419.89 316.56 L421.6 320.91 L423.96 327 L426.76 334.17 L429.78 341.76 L432.79 349.1 L435.59 355.52 L438.21 361.14 L440.82 366.49 L443.44 371.6 L446.05 376.46 L448.67 381.1 L451.28 385.52 L453.9 389.69 L456.52 393.59 L459.13 397.26 L461.75 400.75 L464.36 404.09 L466.98 407.34 L469.6 410.48 L472.21 413.48 L474.83 416.33 L477.44 419.05 L480.06 421.64 L482.67 424.09 L485.29 426.4 L487.91 428.56 L490.52 430.59 L493.14 432.5 L495.75 434.33 L498.37 436.09 L500.99 437.78 L503.6 439.37 L506.22 440.88 L508.83 442.3 L511.45 443.67 L514.06 444.98 L516.68 446.22 L519.3 447.39 L521.91 448.49 L524.53 449.54 L527.14 450.54 L529.76 451.52 L532.38 452.46 L534.99 453.36 L537.61 454.22 L540.22 455.04 L542.84 455.83 L545.46 456.59 L548.07 457.31 L550.69 457.99 L553.3 458.64 L555.92 459.27 L558.53 459.88 L561.15 460.48 L563.77 461.08 L566.38 461.66 L569 462.23 L571.61 462.78 L574.23 463.31 L576.84 463.83 L579.46 464.33 L582.08 464.81 L584.69 465.27 L587.31 465.73 L589.92 466.18 L592.54 466.64 L595.16 467.1 L597.77 467.57 L600.39 468.03 L603 468.49 L605.62 468.93 L608.24 469.37 L610.85 469.78 L613.47 470.19 L616.08 470.59 L618.7 470.98 L621.31 471.35 L623.93 471.7 L626.55 472.04 L629.16 472.36 L631.78 472.67 L634.39 472.96 L637.01 473.23 L639.62 473.5 L642.42 473.75 L645.44 474 L648.45 474.23 L651.25 474.44 L653.61 474.61 L655.32 474.74" fill="none" stroke="#2f5a9b" stroke-width="3.6" stroke-linejoin="round" stroke-linecap="round"/><path d="M420.3 312.77 L422 317.19 L424.36 323.4 L427.16 330.72 L430.18 338.46 L433.19 345.95 L435.99 352.52 L438.61 358.27 L441.22 363.76 L443.84 369 L446.45 374 L449.07 378.77 L451.69 383.31 L454.3 387.6 L456.92 391.62 L459.53 395.41 L462.15 399.01 L464.76 402.45 L467.38 405.78 L470 408.99 L472.61 412.04 L475.23 414.94 L477.84 417.69 L480.46 420.31 L483.07 422.8 L485.69 425.14 L488.31 427.33 L490.92 429.38 L493.54 431.32 L496.15 433.18 L498.77 434.96 L501.39 436.67 L504 438.28 L506.62 439.8 L509.23 441.25 L511.85 442.63 L514.46 443.95 L517.08 445.2 L519.7 446.38 L522.31 447.49 L524.93 448.55 L527.54 449.57 L530.16 450.55 L532.78 451.51 L535.39 452.41 L538.01 453.28 L540.62 454.1 L543.24 454.9 L545.86 455.66 L548.47 456.39 L551.09 457.08 L553.7 457.74 L556.32 458.37 L558.93 458.98 L561.55 459.59 L564.17 460.19 L566.78 460.78 L569.4 461.35 L572.01 461.9 L574.63 462.44 L577.24 462.96 L579.86 463.46 L582.48 463.94 L585.09 464.41 L587.71 464.87 L590.32 465.32 L592.94 465.78 L595.56 466.25 L598.17 466.71 L600.79 467.18 L603.4 467.64 L606.02 468.09 L608.63 468.52 L611.25 468.94 L613.87 469.35 L616.48 469.75 L619.1 470.14 L621.71 470.51 L624.33 470.87 L626.95 471.21 L629.56 471.53 L632.18 471.84 L634.79 472.13 L637.41 472.41 L640.02 472.67 L642.82 472.92 L645.84 473.17 L648.85 473.4 L651.65 473.61 L654.01 473.79 L655.72 473.92" fill="none" stroke="#8d8fab" stroke-width="3.8" stroke-linejoin="round" stroke-linecap="round"/><path d="M420.5 309.23 L422.2 313.75 L424.56 320.09 L427.36 327.55 L430.38 335.45 L433.39 343.11 L436.19 349.82 L438.81 355.71 L441.42 361.35 L444.04 366.73 L446.65 371.88 L449.27 376.78 L451.88 381.46 L454.5 385.88 L457.12 390.03 L459.73 393.94 L462.35 397.65 L464.96 401.2 L467.58 404.62 L470.2 407.9 L472.81 411 L475.43 413.94 L478.04 416.73 L480.66 419.38 L483.27 421.91 L485.89 424.29 L488.51 426.51 L491.12 428.59 L493.74 430.56 L496.35 432.44 L498.97 434.25 L501.59 435.98 L504.2 437.61 L506.82 439.15 L509.43 440.61 L512.05 442 L514.66 443.34 L517.28 444.61 L519.9 445.8 L522.51 446.92 L525.13 447.99 L527.74 449.01 L530.36 450.01 L532.98 450.97 L535.59 451.89 L538.21 452.76 L540.82 453.59 L543.44 454.39 L546.06 455.17 L548.67 455.9 L551.29 456.6 L553.9 457.26 L556.52 457.9 L559.13 458.52 L561.75 459.13 L564.37 459.73 L566.98 460.32 L569.6 460.89 L572.21 461.45 L574.83 461.99 L577.44 462.52 L580.06 463.02 L582.68 463.51 L585.29 463.98 L587.91 464.44 L590.52 464.89 L593.14 465.35 L595.76 465.82 L598.37 466.29 L600.99 466.76 L603.6 467.22 L606.22 467.67 L608.84 468.11 L611.45 468.53 L614.07 468.94 L616.68 469.35 L619.3 469.73 L621.91 470.11 L624.53 470.47 L627.15 470.8 L629.76 471.13 L632.38 471.44 L634.99 471.73 L637.61 472.01 L640.23 472.27 L643.02 472.53 L646.04 472.78 L649.05 473.01 L651.85 473.22 L654.21 473.39 L655.92 473.52" fill="none" stroke="#c3a3aa" stroke-width="4" stroke-linejoin="round" stroke-linecap="round"/><path d="M420.69 305.82 L422.4 310.43 L424.76 316.9 L427.56 324.51 L430.58 332.57 L433.59 340.38 L436.39 347.25 L439.01 353.28 L441.62 359.06 L444.24 364.59 L446.85 369.88 L449.47 374.92 L452.08 379.73 L454.7 384.28 L457.32 388.55 L459.93 392.59 L462.55 396.42 L465.16 400.07 L467.78 403.58 L470.4 406.93 L473.01 410.09 L475.63 413.07 L478.24 415.9 L480.86 418.58 L483.47 421.14 L486.09 423.56 L488.71 425.81 L491.32 427.92 L493.94 429.92 L496.55 431.82 L499.17 433.66 L501.79 435.41 L504.4 437.06 L507.02 438.62 L509.63 440.1 L512.25 441.51 L514.87 442.86 L517.48 444.14 L520.1 445.34 L522.71 446.47 L525.33 447.55 L527.94 448.58 L530.56 449.59 L533.18 450.56 L535.79 451.48 L538.41 452.36 L541.02 453.2 L543.64 454.01 L546.26 454.79 L548.87 455.54 L551.49 456.24 L554.1 456.9 L556.72 457.55 L559.33 458.17 L561.95 458.79 L564.57 459.4 L567.18 459.99 L569.8 460.57 L572.41 461.13 L575.03 461.67 L577.64 462.2 L580.26 462.71 L582.88 463.19 L585.49 463.66 L588.11 464.13 L590.72 464.59 L593.34 465.05 L595.96 465.52 L598.57 465.99 L601.19 466.46 L603.8 466.93 L606.42 467.38 L609.04 467.82 L611.65 468.24 L614.27 468.66 L616.88 469.06 L619.5 469.45 L622.11 469.83 L624.73 470.18 L627.35 470.53 L629.96 470.85 L632.58 471.16 L635.19 471.46 L637.81 471.74 L640.43 472 L643.22 472.25 L646.24 472.5 L649.25 472.74 L652.05 472.95 L654.41 473.12 L656.12 473.25" fill="none" stroke="#dba39b" stroke-width="4.2" stroke-linejoin="round" stroke-linecap="round"/><rect x="417.39" y="312.66" width="6.2" height="6.2" fill="#ffffff" stroke="#6d8cbd" stroke-width="0.8"/><rect x="433.09" y="351.62" width="6.2" height="6.2" fill="#ffffff" stroke="#6d8cbd" stroke-width="0.8"/><rect x="448.78" y="381.62" width="6.2" height="6.2" fill="#ffffff" stroke="#6d8cbd" stroke-width="0.8"/><rect x="464.48" y="403.44" width="6.2" height="6.2" fill="#ffffff" stroke="#6d8cbd" stroke-width="0.8"/><rect x="480.17" y="420.19" width="6.2" height="6.2" fill="#ffffff" stroke="#6d8cbd" stroke-width="0.8"/><rect x="495.87" y="432.19" width="6.2" height="6.2" fill="#ffffff" stroke="#6d8cbd" stroke-width="0.8"/><rect x="511.56" y="441.08" width="6.2" height="6.2" fill="#ffffff" stroke="#6d8cbd" stroke-width="0.8"/><rect x="527.26" y="447.62" width="6.2" height="6.2" fill="#ffffff" stroke="#6d8cbd" stroke-width="0.8"/><rect x="542.96" y="452.69" width="6.2" height="6.2" fill="#ffffff" stroke="#6d8cbd" stroke-width="0.8"/><rect x="558.65" y="456.58" width="6.2" height="6.2" fill="#ffffff" stroke="#6d8cbd" stroke-width="0.8"/><rect x="574.34" y="459.93" width="6.2" height="6.2" fill="#ffffff" stroke="#6d8cbd" stroke-width="0.8"/><rect x="590.04" y="462.74" width="6.2" height="6.2" fill="#ffffff" stroke="#6d8cbd" stroke-width="0.8"/><rect x="605.74" y="465.47" width="6.2" height="6.2" fill="#ffffff" stroke="#6d8cbd" stroke-width="0.8"/><rect x="621.43" y="467.8" width="6.2" height="6.2" fill="#ffffff" stroke="#6d8cbd" stroke-width="0.8"/><rect x="637.12" y="469.6" width="6.2" height="6.2" fill="#ffffff" stroke="#6d8cbd" stroke-width="0.8"/><rect x="652.82" y="470.84" width="6.2" height="6.2" fill="#ffffff" stroke="#6d8cbd" stroke-width="0.8"/><rect x="417.39" y="309.37" width="6.2" height="6.2" fill="#ecebf1" stroke="#b3b4c9" stroke-width="0.8"/><rect x="433.09" y="349.12" width="6.2" height="6.2" fill="#ecebf1" stroke="#b3b4c9" stroke-width="0.8"/><rect x="448.78" y="379.91" width="6.2" height="6.2" fill="#ecebf1" stroke="#b3b4c9" stroke-width="0.8"/><rect x="464.48" y="402.38" width="6.2" height="6.2" fill="#ecebf1" stroke="#b3b4c9" stroke-width="0.8"/><rect x="480.17" y="419.4" width="6.2" height="6.2" fill="#ecebf1" stroke="#b3b4c9" stroke-width="0.8"/><rect x="495.87" y="431.56" width="6.2" height="6.2" fill="#ecebf1" stroke="#b3b4c9" stroke-width="0.8"/><rect x="511.56" y="440.55" width="6.2" height="6.2" fill="#ecebf1" stroke="#b3b4c9" stroke-width="0.8"/><rect x="527.26" y="447.15" width="6.2" height="6.2" fill="#ecebf1" stroke="#b3b4c9" stroke-width="0.8"/><rect x="542.96" y="452.26" width="6.2" height="6.2" fill="#ecebf1" stroke="#b3b4c9" stroke-width="0.8"/><rect x="558.65" y="456.19" width="6.2" height="6.2" fill="#ecebf1" stroke="#b3b4c9" stroke-width="0.8"/><rect x="574.34" y="459.56" width="6.2" height="6.2" fill="#ecebf1" stroke="#b3b4c9" stroke-width="0.8"/><rect x="590.04" y="462.38" width="6.2" height="6.2" fill="#ecebf1" stroke="#b3b4c9" stroke-width="0.8"/><rect x="605.74" y="465.12" width="6.2" height="6.2" fill="#ecebf1" stroke="#b3b4c9" stroke-width="0.8"/><rect x="621.43" y="467.47" width="6.2" height="6.2" fill="#ecebf1" stroke="#b3b4c9" stroke-width="0.8"/><rect x="637.12" y="469.27" width="6.2" height="6.2" fill="#ecebf1" stroke="#b3b4c9" stroke-width="0.8"/><rect x="652.82" y="470.52" width="6.2" height="6.2" fill="#ecebf1" stroke="#b3b4c9" stroke-width="0.8"/><rect x="417.39" y="306.13" width="6.2" height="6.2" fill="#f1e6e8" stroke="#d9c4c8" stroke-width="0.8"/><rect x="433.09" y="346.72" width="6.2" height="6.2" fill="#f1e6e8" stroke="#d9c4c8" stroke-width="0.8"/><rect x="448.78" y="378.36" width="6.2" height="6.2" fill="#f1e6e8" stroke="#d9c4c8" stroke-width="0.8"/><rect x="464.48" y="401.52" width="6.2" height="6.2" fill="#f1e6e8" stroke="#d9c4c8" stroke-width="0.8"/><rect x="480.17" y="418.81" width="6.2" height="6.2" fill="#f1e6e8" stroke="#d9c4c8" stroke-width="0.8"/><rect x="495.87" y="431.15" width="6.2" height="6.2" fill="#f1e6e8" stroke="#d9c4c8" stroke-width="0.8"/><rect x="511.56" y="440.24" width="6.2" height="6.2" fill="#f1e6e8" stroke="#d9c4c8" stroke-width="0.8"/><rect x="527.26" y="446.91" width="6.2" height="6.2" fill="#f1e6e8" stroke="#d9c4c8" stroke-width="0.8"/><rect x="542.96" y="452.07" width="6.2" height="6.2" fill="#f1e6e8" stroke="#d9c4c8" stroke-width="0.8"/><rect x="558.65" y="456.03" width="6.2" height="6.2" fill="#f1e6e8" stroke="#d9c4c8" stroke-width="0.8"/><rect x="574.34" y="459.42" width="6.2" height="6.2" fill="#f1e6e8" stroke="#d9c4c8" stroke-width="0.8"/><rect x="590.04" y="462.25" width="6.2" height="6.2" fill="#f1e6e8" stroke="#d9c4c8" stroke-width="0.8"/><rect x="605.74" y="465.01" width="6.2" height="6.2" fill="#f1e6e8" stroke="#d9c4c8" stroke-width="0.8"/><rect x="621.43" y="467.37" width="6.2" height="6.2" fill="#f1e6e8" stroke="#d9c4c8" stroke-width="0.8"/><rect x="637.12" y="469.17" width="6.2" height="6.2" fill="#f1e6e8" stroke="#d9c4c8" stroke-width="0.8"/><rect x="652.82" y="470.42" width="6.2" height="6.2" fill="#f1e6e8" stroke="#d9c4c8" stroke-width="0.8"/><rect x="417.39" y="302.82" width="6.2" height="6.2" fill="#fbf0ee" stroke="#f1cdc6" stroke-width="0.8"/><rect x="433.09" y="344.25" width="6.2" height="6.2" fill="#fbf0ee" stroke="#f1cdc6" stroke-width="0.8"/><rect x="448.78" y="376.73" width="6.2" height="6.2" fill="#fbf0ee" stroke="#f1cdc6" stroke-width="0.8"/><rect x="464.48" y="400.58" width="6.2" height="6.2" fill="#fbf0ee" stroke="#f1cdc6" stroke-width="0.8"/><rect x="480.17" y="418.14" width="6.2" height="6.2" fill="#fbf0ee" stroke="#f1cdc6" stroke-width="0.8"/><rect x="495.87" y="430.66" width="6.2" height="6.2" fill="#fbf0ee" stroke="#f1cdc6" stroke-width="0.8"/><rect x="511.56" y="439.86" width="6.2" height="6.2" fill="#fbf0ee" stroke="#f1cdc6" stroke-width="0.8"/><rect x="527.26" y="446.59" width="6.2" height="6.2" fill="#fbf0ee" stroke="#f1cdc6" stroke-width="0.8"/><rect x="542.96" y="451.79" width="6.2" height="6.2" fill="#fbf0ee" stroke="#f1cdc6" stroke-width="0.8"/><rect x="558.65" y="455.79" width="6.2" height="6.2" fill="#fbf0ee" stroke="#f1cdc6" stroke-width="0.8"/><rect x="574.34" y="459.2" width="6.2" height="6.2" fill="#fbf0ee" stroke="#f1cdc6" stroke-width="0.8"/><rect x="590.04" y="462.05" width="6.2" height="6.2" fill="#fbf0ee" stroke="#f1cdc6" stroke-width="0.8"/><rect x="605.74" y="464.82" width="6.2" height="6.2" fill="#fbf0ee" stroke="#f1cdc6" stroke-width="0.8"/><rect x="621.43" y="467.18" width="6.2" height="6.2" fill="#fbf0ee" stroke="#f1cdc6" stroke-width="0.8"/><rect x="637.12" y="469" width="6.2" height="6.2" fill="#fbf0ee" stroke="#f1cdc6" stroke-width="0.8"/><rect x="652.82" y="470.25" width="6.2" height="6.2" fill="#fbf0ee" stroke="#f1cdc6" stroke-width="0.8"/><rect x="404.8" y="287.1" width="266.8" height="194.8" fill="none" stroke="#231815" stroke-width="2.6"/><line x1="404.8" y1="481.5" x2="408.8" y2="481.5" stroke="#231815" stroke-width="1.9"/><line x1="404.8" y1="442.54" x2="408.8" y2="442.54" stroke="#231815" stroke-width="1.9"/><line x1="404.8" y1="403.58" x2="408.8" y2="403.58" stroke="#231815" stroke-width="1.9"/><line x1="404.8" y1="364.62" x2="408.8" y2="364.62" stroke="#231815" stroke-width="1.9"/><line x1="404.8" y1="325.66" x2="408.8" y2="325.66" stroke="#231815" stroke-width="1.9"/><line x1="404.8" y1="286.7" x2="408.8" y2="286.7" stroke="#231815" stroke-width="1.9"/><line x1="404.8" y1="462.02" x2="406.8" y2="462.02" stroke="#231815" stroke-width="1.5"/><line x1="404.8" y1="423.06" x2="406.8" y2="423.06" stroke="#231815" stroke-width="1.5"/><line x1="404.8" y1="384.1" x2="406.8" y2="384.1" stroke="#231815" stroke-width="1.5"/><line x1="404.8" y1="345.14" x2="406.8" y2="345.14" stroke="#231815" stroke-width="1.5"/><line x1="404.8" y1="306.18" x2="406.8" y2="306.18" stroke="#231815" stroke-width="1.5"/><line x1="436.19" y1="481.9" x2="436.19" y2="477.9" stroke="#231815" stroke-width="1.9"/><line x1="467.58" y1="481.9" x2="467.58" y2="477.9" stroke="#231815" stroke-width="1.9"/><line x1="498.97" y1="481.9" x2="498.97" y2="477.9" stroke="#231815" stroke-width="1.9"/><line x1="530.36" y1="481.9" x2="530.36" y2="477.9" stroke="#231815" stroke-width="1.9"/><line x1="561.75" y1="481.9" x2="561.75" y2="477.9" stroke="#231815" stroke-width="1.9"/><line x1="593.14" y1="481.9" x2="593.14" y2="477.9" stroke="#231815" stroke-width="1.9"/><line x1="624.53" y1="481.9" x2="624.53" y2="477.9" stroke="#231815" stroke-width="1.9"/><line x1="655.92" y1="481.9" x2="655.92" y2="477.9" stroke="#231815" stroke-width="1.9"/><text x="398.2" y="486.23" font-size="12.1" font-weight="bold" text-anchor="end" fill="#231f20" stroke="#231f20" stroke-width="0.18">0</text><text x="398.2" y="447.27" font-size="12.1" font-weight="bold" text-anchor="end" fill="#231f20" stroke="#231f20" stroke-width="0.18">50</text><text x="398.2" y="408.31" font-size="12.1" font-weight="bold" text-anchor="end" fill="#231f20" stroke="#231f20" stroke-width="0.18">100</text><text x="398.2" y="369.35" font-size="12.1" font-weight="bold" text-anchor="end" fill="#231f20" stroke="#231f20" stroke-width="0.18">150</text><text x="398.2" y="330.39" font-size="12.1" font-weight="bold" text-anchor="end" fill="#231f20" stroke="#231f20" stroke-width="0.18">200</text><text x="398.2" y="291.43" font-size="12.1" font-weight="bold" text-anchor="end" fill="#231f20" stroke="#231f20" stroke-width="0.18">250</text><text x="404.8" y="496.8" font-size="12.1" font-weight="bold" text-anchor="middle" fill="#231f20" stroke="#231f20" stroke-width="0.18">20</text><text x="436.19" y="496.8" font-size="12.1" font-weight="bold" text-anchor="middle" fill="#231f20" stroke="#231f20" stroke-width="0.18">30</text><text x="467.58" y="496.8" font-size="12.1" font-weight="bold" text-anchor="middle" fill="#231f20" stroke="#231f20" stroke-width="0.18">40</text><text x="498.97" y="496.8" font-size="12.1" font-weight="bold" text-anchor="middle" fill="#231f20" stroke="#231f20" stroke-width="0.18">50</text><text x="530.36" y="496.8" font-size="12.1" font-weight="bold" text-anchor="middle" fill="#231f20" stroke="#231f20" stroke-width="0.18">60</text><text x="561.75" y="496.8" font-size="12.1" font-weight="bold" text-anchor="middle" fill="#231f20" stroke="#231f20" stroke-width="0.18">70</text><text x="593.14" y="496.8" font-size="12.1" font-weight="bold" text-anchor="middle" fill="#231f20" stroke="#231f20" stroke-width="0.18">80</text><text x="624.53" y="496.8" font-size="12.1" font-weight="bold" text-anchor="middle" fill="#231f20" stroke="#231f20" stroke-width="0.18">90</text><text x="655.92" y="496.8" font-size="12.1" font-weight="bold" text-anchor="middle" fill="#231f20" stroke="#231f20" stroke-width="0.18">100</text><text x="538.5" y="516.3" font-size="12.2" font-weight="bold" text-anchor="middle" fill="#231f20" stroke="#231f20" stroke-width="0.18" textLength="102.53" lengthAdjust="spacingAndGlyphs">Temperature (°C)</text><text x="366.3" y="383.5" font-size="12.2" font-weight="bold" text-anchor="middle" fill="#231f20" stroke="#231f20" stroke-width="0.18" transform="rotate(-90 366.3 383.5)" textLength="100.11" lengthAdjust="spacingAndGlyphs">Resistance (MΩ)</text><rect x="411.9" y="434.6" width="3.2" height="3.2" fill="#2f5a9b" stroke="none" stroke-width="1"/><rect x="425.5" y="434.6" width="3.2" height="3.2" fill="#2f5a9b" stroke="none" stroke-width="1"/><rect x="416.9" y="432.9" width="6.6" height="6.6" fill="#ffffff" stroke="#4a72ad" stroke-width="0.8"/><text x="433.8" y="439.4" font-size="9" font-weight="bold" text-anchor="start" fill="#231f20" stroke="#231f20" stroke-width="0.14">Plat</text><line x1="412.4" y1="448" x2="428.2" y2="448" stroke="#9496b3" stroke-width="3.6" stroke-linecap="round"/><rect x="416.8" y="444.6" width="6.8" height="6.8" fill="#fbfbfd" stroke="#a9abc4" stroke-width="0.8"/><text x="433.8" y="451.2" font-size="9" font-weight="bold" text-anchor="start" fill="#231f20" stroke="#231f20" stroke-width="0.14">Bending 1k times</text><line x1="412.4" y1="459.8" x2="428.2" y2="459.8" stroke="#c8acb3" stroke-width="3.6" stroke-linecap="round"/><rect x="416.8" y="456.4" width="6.8" height="6.8" fill="#fdfafb" stroke="#d3bcc2" stroke-width="0.8"/><text x="433.8" y="463" font-size="9" font-weight="bold" text-anchor="start" fill="#231f20" stroke="#231f20" stroke-width="0.14">Bending 5k times</text><line x1="412.4" y1="472.4" x2="428.2" y2="472.4" stroke="#f3c3b9" stroke-width="3.6" stroke-linecap="round"/><rect x="416.8" y="469" width="6.8" height="6.8" fill="#fffaf9" stroke="#f5cdc4" stroke-width="0.8"/><text x="433.8" y="475.6" font-size="9" font-weight="bold" text-anchor="start" fill="#231f20" stroke="#231f20" stroke-width="0.14">Bending 10k times</text><path d="M517.77 378 L518.31 377.89 L519 377.72 L519.82 377.51 L520.73 377.28 L521.72 377.04 L522.76 376.83 L523.81 376.64 L524.86 376.52 L525.86 376.46 L526.81 376.5 L527.71 376.64 L528.62 376.89 L529.52 377.21 L530.42 377.59 L531.33 378 L532.23 378.42 L533.14 378.83 L534.04 379.21 L534.94 379.52 L535.85 379.76 L536.75 379.93 L537.65 380.08 L538.56 380.19 L539.46 380.28 L540.37 380.34 L541.27 380.37 L542.17 380.38 L543.08 380.37 L543.98 380.33 L544.89 380.26 L545.79 380.17 L546.69 380.03 L547.6 379.87 L548.5 379.67 L549.4 379.46 L550.31 379.23 L551.21 378.99 L552.12 378.74 L553.02 378.5 L553.92 378.25 L554.83 377.99 L555.73 377.7 L556.64 377.39 L557.54 377.07 L558.44 376.75 L559.35 376.43 L560.25 376.14 L561.15 375.88 L562.06 375.66 L562.96 375.49 L563.87 375.38 L564.77 375.3 L565.67 375.26 L566.58 375.26 L567.48 375.27 L568.39 375.3 L569.29 375.35 L570.19 375.4 L571.1 375.45 L572 375.49 L572.9 375.54 L573.81 375.61 L574.71 375.69 L575.62 375.77 L576.52 375.87 L577.42 375.96 L578.33 376.05 L579.23 376.13 L580.14 376.2 L581.04 376.24 L581.94 376.28 L582.85 376.32 L583.75 376.36 L584.65 376.39 L585.56 376.42 L586.46 376.42 L587.37 376.42 L588.27 376.38 L589.17 376.33 L590.08 376.24 L590.98 376.12 L591.89 375.94 L592.79 375.73 L593.69 375.5 L594.6 375.26 L595.5 375.01 L596.4 374.77 L597.31 374.56 L598.21 374.37 L599.12 374.24 L600.02 374.14 L600.92 374.06 L601.83 374.02 L602.73 373.98 L603.64 373.97 L604.54 373.96 L605.44 373.97 L606.35 373.97 L607.25 373.98 L608.15 373.98 L609.06 373.98 L609.96 373.99 L610.87 373.99 L611.77 374 L612.67 374.02 L613.58 374.04 L614.48 374.07 L615.39 374.11 L616.29 374.17 L617.19 374.24 L618.1 374.33 L619 374.45 L619.9 374.6 L620.8 374.76 L621.7 374.93 L622.6 375.09 L623.5 375.23 L624.41 375.35 L625.32 375.44 L626.23 375.49 L627.15 375.49 L628.08 375.43 L629.01 375.34 L629.94 375.23 L630.88 375.1 L631.81 374.97 L632.74 374.86 L633.67 374.78 L634.6 374.73 L635.52 374.74 L636.43 374.8 L637.34 374.91 L638.25 375.06 L639.15 375.24 L640.06 375.43 L640.96 375.62 L641.86 375.81 L642.76 375.99 L643.66 376.13 L644.56 376.24 L645.5 376.32 L646.51 376.38 L647.56 376.42 L648.61 376.45 L649.64 376.46 L650.63 376.47 L651.55 376.48 L652.37 376.48 L653.06 376.49 L653.6 376.5" fill="none" stroke="#8a8eae" stroke-width="2.5" stroke-linejoin="round" stroke-linecap="round"/><rect x="515.77" y="376" width="4" height="4" fill="#ffffff" stroke="#a9acc6" stroke-width="0.55" opacity="0.95"/><rect x="524.81" y="374.5" width="4" height="4" fill="#ffffff" stroke="#a9acc6" stroke-width="0.55" opacity="0.95"/><rect x="533.85" y="377.76" width="4" height="4" fill="#ffffff" stroke="#a9acc6" stroke-width="0.55" opacity="0.95"/><rect x="542.89" y="378.26" width="4" height="4" fill="#ffffff" stroke="#a9acc6" stroke-width="0.55" opacity="0.95"/><rect x="551.92" y="376.25" width="4" height="4" fill="#ffffff" stroke="#a9acc6" stroke-width="0.55" opacity="0.95"/><rect x="560.96" y="373.49" width="4" height="4" fill="#ffffff" stroke="#a9acc6" stroke-width="0.55" opacity="0.95"/><rect x="570" y="373.49" width="4" height="4" fill="#ffffff" stroke="#a9acc6" stroke-width="0.55" opacity="0.95"/><rect x="579.04" y="374.24" width="4" height="4" fill="#ffffff" stroke="#a9acc6" stroke-width="0.55" opacity="0.95"/><rect x="588.08" y="374.24" width="4" height="4" fill="#ffffff" stroke="#a9acc6" stroke-width="0.55" opacity="0.95"/><rect x="597.12" y="372.24" width="4" height="4" fill="#ffffff" stroke="#a9acc6" stroke-width="0.55" opacity="0.95"/><rect x="606.15" y="371.98" width="4" height="4" fill="#ffffff" stroke="#a9acc6" stroke-width="0.55" opacity="0.95"/><rect x="615.19" y="372.24" width="4" height="4" fill="#ffffff" stroke="#a9acc6" stroke-width="0.55" opacity="0.95"/><rect x="624.23" y="373.49" width="4" height="4" fill="#ffffff" stroke="#a9acc6" stroke-width="0.55" opacity="0.95"/><rect x="633.52" y="372.74" width="4" height="4" fill="#ffffff" stroke="#a9acc6" stroke-width="0.55" opacity="0.95"/><rect x="642.56" y="374.24" width="4" height="4" fill="#ffffff" stroke="#a9acc6" stroke-width="0.55" opacity="0.95"/><rect x="651.6" y="374.5" width="4" height="4" fill="#ffffff" stroke="#a9acc6" stroke-width="0.55" opacity="0.95"/><path d="M517.77 368.96 L518.31 368.99 L519 369.02 L519.82 369.04 L520.73 369.07 L521.72 369.1 L522.76 369.16 L523.81 369.25 L524.86 369.36 L525.86 369.52 L526.81 369.72 L527.71 369.98 L528.62 370.32 L529.52 370.71 L530.42 371.14 L531.33 371.58 L532.23 372.03 L533.14 372.46 L534.04 372.86 L534.94 373.2 L535.85 373.48 L536.75 373.72 L537.65 373.94 L538.56 374.14 L539.46 374.32 L540.37 374.47 L541.27 374.58 L542.17 374.64 L543.08 374.65 L543.98 374.6 L544.89 374.49 L545.79 374.28 L546.69 373.99 L547.6 373.62 L548.5 373.19 L549.4 372.73 L550.31 372.25 L551.21 371.76 L552.12 371.29 L553.02 370.85 L553.92 370.47 L554.83 370.12 L555.73 369.77 L556.64 369.43 L557.54 369.1 L558.44 368.77 L559.35 368.47 L560.25 368.18 L561.15 367.91 L562.06 367.67 L562.96 367.46 L563.87 367.27 L564.77 367.11 L565.67 366.98 L566.58 366.86 L567.48 366.77 L568.39 366.69 L569.29 366.62 L570.19 366.56 L571.1 366.5 L572 366.45 L572.9 366.41 L573.81 366.37 L574.71 366.35 L575.62 366.33 L576.52 366.33 L577.42 366.33 L578.33 366.35 L579.23 366.37 L580.14 366.41 L581.04 366.45 L581.94 366.53 L582.85 366.67 L583.75 366.84 L584.65 367.02 L585.56 367.21 L586.46 367.37 L587.37 367.49 L588.27 367.56 L589.17 367.56 L590.08 367.46 L590.98 367.24 L591.89 366.9 L592.79 366.48 L593.69 365.99 L594.6 365.48 L595.5 364.96 L596.4 364.47 L597.31 364.03 L598.21 363.68 L599.12 363.44 L600.02 363.32 L600.92 363.3 L601.83 363.35 L602.73 363.46 L603.64 363.6 L604.54 363.74 L605.44 363.87 L606.35 363.96 L607.25 363.99 L608.15 363.94 L609.06 363.8 L609.96 363.6 L610.87 363.35 L611.77 363.07 L612.67 362.76 L613.58 362.45 L614.48 362.15 L615.39 361.87 L616.29 361.62 L617.19 361.43 L618.1 361.25 L619 361.06 L619.9 360.85 L620.8 360.67 L621.7 360.51 L622.6 360.39 L623.5 360.33 L624.41 360.35 L625.32 360.46 L626.23 360.68 L627.15 361.05 L628.08 361.58 L629.01 362.23 L629.94 362.97 L630.88 363.75 L631.81 364.54 L632.74 365.29 L633.67 365.97 L634.6 366.54 L635.52 366.95 L636.43 367.22 L637.34 367.39 L638.25 367.47 L639.15 367.49 L640.06 367.46 L640.96 367.39 L641.86 367.32 L642.76 367.25 L643.66 367.21 L644.56 367.21 L645.5 367.23 L646.51 367.26 L647.56 367.29 L648.61 367.32 L649.64 367.35 L650.63 367.37 L651.55 367.4 L652.37 367.42 L653.06 367.44 L653.6 367.46" fill="none" stroke="#c2a4ab" stroke-width="2.5" stroke-linejoin="round" stroke-linecap="round"/><rect x="515.77" y="366.96" width="4" height="4" fill="#ffffff" stroke="#d3bcc1" stroke-width="0.55" opacity="0.95"/><rect x="524.81" y="367.72" width="4" height="4" fill="#ffffff" stroke="#d3bcc1" stroke-width="0.55" opacity="0.95"/><rect x="533.85" y="371.48" width="4" height="4" fill="#ffffff" stroke="#d3bcc1" stroke-width="0.55" opacity="0.95"/><rect x="542.89" y="372.49" width="4" height="4" fill="#ffffff" stroke="#d3bcc1" stroke-width="0.55" opacity="0.95"/><rect x="551.92" y="368.47" width="4" height="4" fill="#ffffff" stroke="#d3bcc1" stroke-width="0.55" opacity="0.95"/><rect x="560.96" y="365.46" width="4" height="4" fill="#ffffff" stroke="#d3bcc1" stroke-width="0.55" opacity="0.95"/><rect x="570" y="364.45" width="4" height="4" fill="#ffffff" stroke="#d3bcc1" stroke-width="0.55" opacity="0.95"/><rect x="579.04" y="364.45" width="4" height="4" fill="#ffffff" stroke="#d3bcc1" stroke-width="0.55" opacity="0.95"/><rect x="588.08" y="365.46" width="4" height="4" fill="#ffffff" stroke="#d3bcc1" stroke-width="0.55" opacity="0.95"/><rect x="597.12" y="361.44" width="4" height="4" fill="#ffffff" stroke="#d3bcc1" stroke-width="0.55" opacity="0.95"/><rect x="606.15" y="361.94" width="4" height="4" fill="#ffffff" stroke="#d3bcc1" stroke-width="0.55" opacity="0.95"/><rect x="615.19" y="359.43" width="4" height="4" fill="#ffffff" stroke="#d3bcc1" stroke-width="0.55" opacity="0.95"/><rect x="624.23" y="358.68" width="4" height="4" fill="#ffffff" stroke="#d3bcc1" stroke-width="0.55" opacity="0.95"/><rect x="633.52" y="364.95" width="4" height="4" fill="#ffffff" stroke="#d3bcc1" stroke-width="0.55" opacity="0.95"/><rect x="642.56" y="365.21" width="4" height="4" fill="#ffffff" stroke="#d3bcc1" stroke-width="0.55" opacity="0.95"/><rect x="651.6" y="365.46" width="4" height="4" fill="#ffffff" stroke="#d3bcc1" stroke-width="0.55" opacity="0.95"/><path d="M517.77 359.42 L518.31 359.39 L519 359.29 L519.82 359.17 L520.73 359.04 L521.72 358.92 L522.76 358.84 L523.81 358.83 L524.86 358.91 L525.86 359.1 L526.81 359.42 L527.71 359.93 L528.62 360.63 L529.52 361.46 L530.42 362.4 L531.33 363.38 L532.23 364.36 L533.14 365.31 L534.04 366.17 L534.94 366.9 L535.85 367.46 L536.75 367.87 L537.65 368.2 L538.56 368.46 L539.46 368.64 L540.37 368.76 L541.27 368.81 L542.17 368.81 L543.08 368.74 L543.98 368.63 L544.89 368.46 L545.79 368.22 L546.69 367.89 L547.6 367.49 L548.5 367.02 L549.4 366.5 L550.31 365.95 L551.21 365.38 L552.12 364.8 L553.02 364.23 L553.92 363.69 L554.83 363.14 L555.73 362.54 L556.64 361.91 L557.54 361.27 L558.44 360.63 L559.35 360 L560.25 359.4 L561.15 358.85 L562.06 358.35 L562.96 357.92 L563.87 357.54 L564.77 357.21 L565.67 356.91 L566.58 356.65 L567.48 356.43 L568.39 356.24 L569.29 356.1 L570.19 355.99 L571.1 355.93 L572 355.91 L572.9 355.96 L573.81 356.11 L574.71 356.33 L575.62 356.6 L576.52 356.9 L577.42 357.19 L578.33 357.46 L579.23 357.69 L580.14 357.85 L581.04 357.92 L581.94 357.91 L582.85 357.88 L583.75 357.81 L584.65 357.7 L585.56 357.56 L586.46 357.37 L587.37 357.14 L588.27 356.86 L589.17 356.53 L590.08 356.16 L590.98 355.68 L591.89 355.07 L592.79 354.36 L593.69 353.6 L594.6 352.82 L595.5 352.05 L596.4 351.34 L597.31 350.71 L598.21 350.21 L599.12 349.88 L600.02 349.73 L600.92 349.73 L601.83 349.86 L602.73 350.07 L603.64 350.34 L604.54 350.63 L605.44 350.91 L606.35 351.16 L607.25 351.32 L608.15 351.39 L609.06 351.37 L609.96 351.3 L610.87 351.2 L611.77 351.06 L612.67 350.9 L613.58 350.72 L614.48 350.52 L615.39 350.31 L616.29 350.1 L617.19 349.88 L618.1 349.6 L619 349.22 L619.9 348.77 L620.8 348.3 L621.7 347.84 L622.6 347.44 L623.5 347.12 L624.41 346.94 L625.32 346.92 L626.23 347.12 L627.15 347.59 L628.08 348.32 L629.01 349.26 L629.94 350.33 L630.88 351.48 L631.81 352.65 L632.74 353.76 L633.67 354.76 L634.6 355.58 L635.52 356.16 L636.43 356.5 L637.34 356.65 L638.25 356.66 L639.15 356.57 L640.06 356.41 L640.96 356.22 L641.86 356.04 L642.76 355.9 L643.66 355.84 L644.56 355.91 L645.5 356.09 L646.51 356.35 L647.56 356.67 L648.61 357.02 L649.64 357.4 L650.63 357.78 L651.55 358.14 L652.37 358.46 L653.06 358.73 L653.6 358.92" fill="none" stroke="#f3bfb4" stroke-width="2.5" stroke-linejoin="round" stroke-linecap="round"/><rect x="515.77" y="357.42" width="4" height="4" fill="#ffffff" stroke="#f6d0c8" stroke-width="0.55" opacity="0.95"/><rect x="524.81" y="357.42" width="4" height="4" fill="#ffffff" stroke="#f6d0c8" stroke-width="0.55" opacity="0.95"/><rect x="533.85" y="365.46" width="4" height="4" fill="#ffffff" stroke="#f6d0c8" stroke-width="0.55" opacity="0.95"/><rect x="542.89" y="366.46" width="4" height="4" fill="#ffffff" stroke="#f6d0c8" stroke-width="0.55" opacity="0.95"/><rect x="551.92" y="361.69" width="4" height="4" fill="#ffffff" stroke="#f6d0c8" stroke-width="0.55" opacity="0.95"/><rect x="560.96" y="355.92" width="4" height="4" fill="#ffffff" stroke="#f6d0c8" stroke-width="0.55" opacity="0.95"/><rect x="570" y="353.91" width="4" height="4" fill="#ffffff" stroke="#f6d0c8" stroke-width="0.55" opacity="0.95"/><rect x="579.04" y="355.92" width="4" height="4" fill="#ffffff" stroke="#f6d0c8" stroke-width="0.55" opacity="0.95"/><rect x="588.08" y="354.16" width="4" height="4" fill="#ffffff" stroke="#f6d0c8" stroke-width="0.55" opacity="0.95"/><rect x="597.12" y="347.88" width="4" height="4" fill="#ffffff" stroke="#f6d0c8" stroke-width="0.55" opacity="0.95"/><rect x="606.15" y="349.39" width="4" height="4" fill="#ffffff" stroke="#f6d0c8" stroke-width="0.55" opacity="0.95"/><rect x="615.19" y="347.88" width="4" height="4" fill="#ffffff" stroke="#f6d0c8" stroke-width="0.55" opacity="0.95"/><rect x="624.23" y="345.12" width="4" height="4" fill="#ffffff" stroke="#f6d0c8" stroke-width="0.55" opacity="0.95"/><rect x="633.52" y="354.16" width="4" height="4" fill="#ffffff" stroke="#f6d0c8" stroke-width="0.55" opacity="0.95"/><rect x="642.56" y="353.91" width="4" height="4" fill="#ffffff" stroke="#f6d0c8" stroke-width="0.55" opacity="0.95"/><rect x="651.6" y="356.92" width="4" height="4" fill="#ffffff" stroke="#f6d0c8" stroke-width="0.55" opacity="0.95"/><rect x="509.1" y="295.7" width="153.8" height="112.4" fill="none" stroke="#231815" stroke-width="2.2"/><line x1="509.1" y1="385.5" x2="511.7" y2="385.5" stroke="#231815" stroke-width="1.5"/><line x1="509.1" y1="363.06" x2="511.7" y2="363.06" stroke="#231815" stroke-width="1.5"/><line x1="509.1" y1="340.62" x2="511.7" y2="340.62" stroke="#231815" stroke-width="1.5"/><line x1="509.1" y1="318.18" x2="511.7" y2="318.18" stroke="#231815" stroke-width="1.5"/><line x1="527.21" y1="408.1" x2="527.21" y2="405.5" stroke="#231815" stroke-width="1.5"/><line x1="545.32" y1="408.1" x2="545.32" y2="405.5" stroke="#231815" stroke-width="1.5"/><line x1="563.43" y1="408.1" x2="563.43" y2="405.5" stroke="#231815" stroke-width="1.5"/><line x1="581.54" y1="408.1" x2="581.54" y2="405.5" stroke="#231815" stroke-width="1.5"/><line x1="599.65" y1="408.1" x2="599.65" y2="405.5" stroke="#231815" stroke-width="1.5"/><line x1="617.76" y1="408.1" x2="617.76" y2="405.5" stroke="#231815" stroke-width="1.5"/><line x1="635.87" y1="408.1" x2="635.87" y2="405.5" stroke="#231815" stroke-width="1.5"/><line x1="653.98" y1="408.1" x2="653.98" y2="405.5" stroke="#231815" stroke-width="1.5"/><text x="505.1" y="410.54" font-size="8.3" font-weight="bold" text-anchor="end" fill="#231f20" stroke="#231f20" stroke-width="0.12" textLength="8.49" lengthAdjust="spacingAndGlyphs">-5</text><text x="505.1" y="388.1" font-size="8.3" font-weight="bold" text-anchor="end" fill="#231f20" stroke="#231f20" stroke-width="0.12" textLength="5.31" lengthAdjust="spacingAndGlyphs">0</text><text x="505.1" y="365.66" font-size="8.3" font-weight="bold" text-anchor="end" fill="#231f20" stroke="#231f20" stroke-width="0.12" textLength="5.31" lengthAdjust="spacingAndGlyphs">5</text><text x="505.1" y="343.22" font-size="8.3" font-weight="bold" text-anchor="end" fill="#231f20" stroke="#231f20" stroke-width="0.12" textLength="10.62" lengthAdjust="spacingAndGlyphs">10</text><text x="505.1" y="320.78" font-size="8.3" font-weight="bold" text-anchor="end" fill="#231f20" stroke="#231f20" stroke-width="0.12" textLength="10.62" lengthAdjust="spacingAndGlyphs">15</text><text x="505.1" y="298.34" font-size="8.3" font-weight="bold" text-anchor="end" fill="#231f20" stroke="#231f20" stroke-width="0.12" textLength="10.62" lengthAdjust="spacingAndGlyphs">20</text><text x="509.1" y="419" font-size="8.3" font-weight="bold" text-anchor="middle" fill="#231f20" stroke="#231f20" stroke-width="0.12" textLength="10.34" lengthAdjust="spacingAndGlyphs">20</text><text x="527.21" y="419" font-size="8.3" font-weight="bold" text-anchor="middle" fill="#231f20" stroke="#231f20" stroke-width="0.12" textLength="10.34" lengthAdjust="spacingAndGlyphs">30</text><text x="545.32" y="419" font-size="8.3" font-weight="bold" text-anchor="middle" fill="#231f20" stroke="#231f20" stroke-width="0.12" textLength="10.34" lengthAdjust="spacingAndGlyphs">40</text><text x="563.43" y="419" font-size="8.3" font-weight="bold" text-anchor="middle" fill="#231f20" stroke="#231f20" stroke-width="0.12" textLength="10.34" lengthAdjust="spacingAndGlyphs">50</text><text x="581.54" y="419" font-size="8.3" font-weight="bold" text-anchor="middle" fill="#231f20" stroke="#231f20" stroke-width="0.12" textLength="10.34" lengthAdjust="spacingAndGlyphs">60</text><text x="599.65" y="419" font-size="8.3" font-weight="bold" text-anchor="middle" fill="#231f20" stroke="#231f20" stroke-width="0.12" textLength="10.34" lengthAdjust="spacingAndGlyphs">70</text><text x="617.76" y="419" font-size="8.3" font-weight="bold" text-anchor="middle" fill="#231f20" stroke="#231f20" stroke-width="0.12" textLength="10.34" lengthAdjust="spacingAndGlyphs">80</text><text x="635.87" y="419" font-size="8.3" font-weight="bold" text-anchor="middle" fill="#231f20" stroke="#231f20" stroke-width="0.12" textLength="10.34" lengthAdjust="spacingAndGlyphs">90</text><text x="653.98" y="419" font-size="8.3" font-weight="bold" text-anchor="middle" fill="#231f20" stroke="#231f20" stroke-width="0.12" textLength="15.51" lengthAdjust="spacingAndGlyphs">100</text><text x="585.4" y="433" font-size="8.9" font-weight="bold" text-anchor="middle" fill="#231f20" stroke="#231f20" stroke-width="0.13">Temperature (°C)</text><text x="484.6" y="352" font-size="8.8" font-weight="bold" text-anchor="middle" fill="#231f20" stroke="#231f20" stroke-width="0.13" transform="rotate(-90 484.6 352)">ΔR/R (%)</text><line x1="519.6" y1="309.5" x2="535.2" y2="309.5" stroke="#8a8eae" stroke-width="2.3" stroke-linecap="round"/><rect x="525.4" y="307.5" width="4" height="4" fill="#ffffff" stroke="#8a8eae" stroke-width="0.6"/><text x="538.8" y="312.1" font-size="7.2" font-weight="bold" text-anchor="start" fill="#231f20" stroke="#231f20" stroke-width="0.11">Bending 1k times</text><line x1="519.6" y1="319.8" x2="535.2" y2="319.8" stroke="#c2a4ab" stroke-width="2.3" stroke-linecap="round"/><rect x="525.4" y="317.8" width="4" height="4" fill="#ffffff" stroke="#c2a4ab" stroke-width="0.6"/><text x="538.8" y="322.4" font-size="7.2" font-weight="bold" text-anchor="start" fill="#231f20" stroke="#231f20" stroke-width="0.11">Bending 5k times</text><line x1="519.6" y1="329.8" x2="535.2" y2="329.8" stroke="#f3bfb4" stroke-width="2.3" stroke-linecap="round"/><rect x="525.4" y="327.8" width="4" height="4" fill="#ffffff" stroke="#f3bfb4" stroke-width="0.6"/><text x="538.8" y="332.4" font-size="7.2" font-weight="bold" text-anchor="start" fill="#231f20" stroke="#231f20" stroke-width="0.11">Bending 10k times</text></g>
<g id="panel-e"><text x="1" y="551.3" font-size="18" font-weight="bold" text-anchor="start" fill="#231f20" stroke="#231f20" stroke-width="0.27">e</text><path d="M50.4 726.6 L50.71 725.08 L51.12 723.05 L51.61 720.64 L52.16 717.96 L52.74 715.13 L53.34 712.28 L53.93 709.53 L54.5 707 L55.05 704.61 L55.6 702.22 L56.15 699.83 L56.71 697.46 L57.29 695.13 L57.9 692.85 L58.53 690.64 L59.2 688.5 L59.89 686.48 L60.58 684.57 L61.29 682.75 L62.03 680.97 L62.81 679.19 L63.64 677.38 L64.53 675.49 L65.5 673.5 L66.54 671.38 L67.64 669.17 L68.8 666.9 L70.01 664.58 L71.27 662.26 L72.57 659.95 L73.92 657.69 L75.3 655.5 L76.74 653.37 L78.26 651.27 L79.82 649.21 L81.43 647.16 L83.06 645.14 L84.69 643.14 L86.31 641.16 L87.9 639.2 L89.47 637.25 L91.03 635.3 L92.59 633.37 L94.15 631.46 L95.71 629.58 L97.27 627.74 L98.83 625.94 L100.4 624.2 L101.97 622.5 L103.55 620.83 L105.12 619.2 L106.7 617.61 L108.28 616.07 L109.85 614.59 L111.43 613.16 L113 611.8 L114.57 610.5 L116.13 609.27 L117.69 608.09 L119.26 606.96 L120.82 605.89 L122.38 604.88 L123.94 603.91 L125.5 603 L127.06 602.16 L128.62 601.4 L130.18 600.71 L131.74 600.06 L133.31 599.45 L134.87 598.84 L136.43 598.23 L138 597.6 L139.59 596.95 L141.2 596.3 L142.83 595.65 L144.45 595.01 L146.05 594.38 L147.62 593.77 L149.14 593.17 L150.6 592.6 L151.97 592.05 L153.27 591.51 L154.52 590.98 L155.73 590.48 L156.93 589.98 L158.15 589.51 L159.4 589.05 L160.7 588.6 L161.97 588.2 L163.16 587.86 L164.33 587.55 L165.54 587.25 L166.85 586.93 L168.32 586.57 L170.01 586.13 L172 585.6 L174.31 584.95 L176.9 584.21 L179.71 583.39 L182.69 582.53 L185.77 581.65 L188.91 580.78 L192.04 579.72 L195.1 579.24 L198.14 578.38 L201.23 577.91 L204.37 577.26 L207.52 576.12 L210.7 575.45 L213.88 575.6 L217.05 574.52 L220.2 573.96 L223.34 574.14 L226.47 573.2 L229.61 573.09 L232.75 572.35 L235.89 572.1 L239.02 571.29 L242.16 571.36 L245.3 571.23 L248.48 570.59 L251.73 570.48 L255.01 570.13 L258.27 569.31 L261.48 569.69 L264.6 569.3 L267.58 568.82 L270.4 568.38 L273.15 568.94 L275.9 568.42 L278.6 568.5 L281.17 568.51 L283.54 568.25 L285.65 568.33 L287.43 567.78 L288.8 568.07" fill="none" stroke="#b57068" stroke-width="2.4" stroke-linejoin="round" stroke-linecap="round"/><path d="M46.7 639.27 L48.3 639.34 L49.91 639.38 L51.51 639.47 L53.11 639.37 L54.72 639.48 L56.32 638.99 L57.92 639.24 L59.53 639.52 L61.13 639.36 L62.73 639.51 L64.34 639.08 L65.94 639.28 L67.54 639.17 L69.15 639.34 L70.75 639.37 L72.35 639.06 L73.96 639.18 L75.56 639.23 L77.16 639.59 L78.77 639.52 L80.37 639.19 L81.97 639.55 L83.58 639.19 L85.18 639.47 L86.78 639.22 L88.39 639.18 L89.99 639.69 L91.59 639.35 L93.2 639.38 L94.8 639.84 L96.4 639.8 L98.01 639.5 L99.61 639.91 L101.21 639.7 L102.82 639.81 L104.42 639.57 L106.02 640.01 L107.63 639.89 L109.23 640.08 L110.83 640.06 L112.44 639.76 L114.04 639.82 L115.64 639.74 L117.25 639.75 L118.85 639.74 L120.45 639.89 L122.06 640.07 L123.66 639.74 L125.26 640.12 L126.87 639.94 L128.47 639.93 L130.07 640.22 L131.68 640.04 L133.28 639.95 L134.88 640.05 L136.49 640.18 L138.09 639.82 L139.69 640.34 L141.3 639.82 L142.9 640.23 L144.5 640.29 L146.11 639.83 L147.71 640.27 L149.31 640.04 L150.92 640.17 L152.52 639.86 L154.12 639.88 L155.73 639.96 L157.33 640.4 L158.93 639.99 L160.54 640.31 L162.14 640.41 L163.74 640.42 L165.35 640.09 L166.95 640.11 L168.55 640.21 L170.15 640.33 L171.76 639.7 L173.36 639.8 L174.96 639.57 L176.57 639.61 L178.17 639.16 L179.77 639.68 L181.38 639.21 L182.98 639.35 L184.58 639.51 L186.19 639.7 L187.79 639.38 L189.39 639.72 L191 639.51 L192.6 639.39 L194.2 639.4 L195.81 639.33 L197.41 639.29 L199.01 639.33 L200.62 639.65 L202.22 639.83 L203.82 639.37 L205.43 639.31 L207.03 639.85 L208.63 639.6 L210.24 639.54 L211.84 639.45 L213.44 639.66 L215.05 639.8 L216.65 639.6 L218.25 639.59 L219.86 639.4 L221.46 639.89 L223.06 639.4 L224.67 639.67 L226.27 639.87 L227.87 639.48 L229.48 639.83 L231.08 639.96 L232.68 639.8 L234.29 639.9 L235.89 639.53 L237.49 639.73 L239.1 639.58 L240.7 639.98 L242.3 639.69 L243.91 639.79 L245.51 640.11 L247.11 640.04 L248.72 640.13 L250.32 639.85 L251.92 639.88 L253.53 640.03 L255.13 639.9 L256.73 639.81 L258.34 639.89 L259.94 639.76 L261.54 639.9 L263.15 640.26 L264.75 640.25 L266.35 640.08 L267.96 640.02 L269.56 639.95 L271.16 639.82 L272.77 639.94 L274.37 640.24 L275.97 640.3 L277.58 640.03 L279.18 640.28 L280.78 640.29 L282.39 640.25 L283.99 640.25 L285.59 640.32 L287.2 640.11 L288.8 640.31" fill="none" stroke="#4463a6" stroke-width="2.2" stroke-linejoin="round" stroke-linecap="round"/><line x1="46.7" y1="551.6" x2="288.8" y2="551.6" stroke="#231815" stroke-width="2.6"/><line x1="46.7" y1="726.3" x2="288.8" y2="726.3" stroke="#231815" stroke-width="2.6"/><line x1="85.53" y1="726.3" x2="85.53" y2="722.3" stroke="#231815" stroke-width="1.9"/><line x1="124.36" y1="726.3" x2="124.36" y2="722.3" stroke="#231815" stroke-width="1.9"/><line x1="163.19" y1="726.3" x2="163.19" y2="722.3" stroke="#231815" stroke-width="1.9"/><line x1="202.02" y1="726.3" x2="202.02" y2="722.3" stroke="#231815" stroke-width="1.9"/><line x1="240.85" y1="726.3" x2="240.85" y2="722.3" stroke="#231815" stroke-width="1.9"/><line x1="279.68" y1="726.3" x2="279.68" y2="722.3" stroke="#231815" stroke-width="1.9"/><line x1="46.7" y1="550.3" x2="46.7" y2="727.6" stroke="#4463a6" stroke-width="2.6"/><line x1="46.7" y1="551.6" x2="50.7" y2="551.6" stroke="#4463a6" stroke-width="2.6"/><line x1="46.7" y1="726.3" x2="50.7" y2="726.3" stroke="#4463a6" stroke-width="2.6"/><line x1="46.7" y1="580.8" x2="50.4" y2="580.8" stroke="#4463a6" stroke-width="1.9"/><line x1="46.7" y1="610" x2="50.4" y2="610" stroke="#4463a6" stroke-width="1.9"/><line x1="46.7" y1="639.2" x2="50.4" y2="639.2" stroke="#4463a6" stroke-width="1.9"/><line x1="46.7" y1="668.4" x2="50.4" y2="668.4" stroke="#4463a6" stroke-width="1.9"/><line x1="46.7" y1="697.6" x2="50.4" y2="697.6" stroke="#4463a6" stroke-width="1.9"/><line x1="288.8" y1="550.3" x2="288.8" y2="727.6" stroke="#b57068" stroke-width="2.6"/><line x1="288.8" y1="551.6" x2="284.8" y2="551.6" stroke="#b57068" stroke-width="2.6"/><line x1="288.8" y1="726.3" x2="284.8" y2="726.3" stroke="#b57068" stroke-width="2.6"/><line x1="288.8" y1="580.8" x2="285.1" y2="580.8" stroke="#b57068" stroke-width="1.9"/><line x1="288.8" y1="610" x2="285.1" y2="610" stroke="#b57068" stroke-width="1.9"/><line x1="288.8" y1="639.2" x2="285.1" y2="639.2" stroke="#b57068" stroke-width="1.9"/><line x1="288.8" y1="668.4" x2="285.1" y2="668.4" stroke="#b57068" stroke-width="1.9"/><line x1="288.8" y1="697.6" x2="285.1" y2="697.6" stroke="#b57068" stroke-width="1.9"/><text x="40.3" y="556.08" font-size="12.1" font-weight="bold" text-anchor="end" fill="#4463a6" stroke="#4463a6" stroke-width="0.18">15</text><text x="40.3" y="585.28" font-size="12.1" font-weight="bold" text-anchor="end" fill="#4463a6" stroke="#4463a6" stroke-width="0.18">10</text><text x="40.3" y="614.48" font-size="12.1" font-weight="bold" text-anchor="end" fill="#4463a6" stroke="#4463a6" stroke-width="0.18">5</text><text x="40.3" y="643.68" font-size="12.1" font-weight="bold" text-anchor="end" fill="#4463a6" stroke="#4463a6" stroke-width="0.18">0</text><text x="40.3" y="672.88" font-size="12.1" font-weight="bold" text-anchor="end" fill="#4463a6" stroke="#4463a6" stroke-width="0.18">-5</text><text x="40.3" y="702.08" font-size="12.1" font-weight="bold" text-anchor="end" fill="#4463a6" stroke="#4463a6" stroke-width="0.18">-10</text><text x="40.3" y="731.28" font-size="12.1" font-weight="bold" text-anchor="end" fill="#4463a6" stroke="#4463a6" stroke-width="0.18">-15</text><text x="295.2" y="555.93" font-size="12.1" font-weight="bold" text-anchor="start" fill="#b57068" stroke="#b57068" stroke-width="0.18">300</text><text x="295.2" y="585.13" font-size="12.1" font-weight="bold" text-anchor="start" fill="#b57068" stroke="#b57068" stroke-width="0.18">250</text><text x="295.2" y="614.33" font-size="12.1" font-weight="bold" text-anchor="start" fill="#b57068" stroke="#b57068" stroke-width="0.18">200</text><text x="295.2" y="643.53" font-size="12.1" font-weight="bold" text-anchor="start" fill="#b57068" stroke="#b57068" stroke-width="0.18">150</text><text x="295.2" y="672.73" font-size="12.1" font-weight="bold" text-anchor="start" fill="#b57068" stroke="#b57068" stroke-width="0.18">100</text><text x="295.2" y="701.93" font-size="12.1" font-weight="bold" text-anchor="start" fill="#b57068" stroke="#b57068" stroke-width="0.18">50</text><text x="295.2" y="731.13" font-size="12.1" font-weight="bold" text-anchor="start" fill="#b57068" stroke="#b57068" stroke-width="0.18">0</text><text x="46.7" y="742" font-size="12.1" font-weight="bold" text-anchor="middle" fill="#231f20" stroke="#231f20" stroke-width="0.18">0</text><text x="85.53" y="742" font-size="12.1" font-weight="bold" text-anchor="middle" fill="#231f20" stroke="#231f20" stroke-width="0.18">200</text><text x="124.36" y="742" font-size="12.1" font-weight="bold" text-anchor="middle" fill="#231f20" stroke="#231f20" stroke-width="0.18">400</text><text x="163.19" y="742" font-size="12.1" font-weight="bold" text-anchor="middle" fill="#231f20" stroke="#231f20" stroke-width="0.18">600</text><text x="202.02" y="742" font-size="12.1" font-weight="bold" text-anchor="middle" fill="#231f20" stroke="#231f20" stroke-width="0.18">800</text><text x="240.85" y="742" font-size="12.1" font-weight="bold" text-anchor="middle" fill="#231f20" stroke="#231f20" stroke-width="0.18">1000</text><text x="279.68" y="742" font-size="12.1" font-weight="bold" text-anchor="middle" fill="#231f20" stroke="#231f20" stroke-width="0.18">1200</text><text x="167" y="759.5" font-size="12.2" font-weight="bold" text-anchor="middle" fill="#231f20" stroke="#231f20" stroke-width="0.18" textLength="50.02" lengthAdjust="spacingAndGlyphs">Time (S)</text><text x="10.8" y="639.55" font-size="12.2" font-weight="bold" text-anchor="middle" fill="#4463a6" stroke="#4463a6" stroke-width="0.18" transform="rotate(-90 10.8 639.55)">ΔR/R (%)</text><text x="334" y="639.45" font-size="12.2" font-weight="bold" text-anchor="middle" fill="#b57068" stroke="#b57068" stroke-width="0.18" transform="rotate(-90 334 639.45)" textLength="147.7" lengthAdjust="spacingAndGlyphs">Gas concentration (ppm)</text><text x="88.4" y="572.8" font-size="12.4" font-weight="bold" text-anchor="middle" fill="#231f20" stroke="#231f20" stroke-width="0.19">Ethanol</text><text x="88.4" y="587.8" font-size="12.4" font-weight="bold" text-anchor="middle" fill="#231f20" stroke="#231f20" stroke-width="0.19">vapor</text></g>
<g id="panel-f"><text x="358" y="551" font-size="18" font-weight="bold" text-anchor="start" fill="#231f20" stroke="#231f20" stroke-width="0.27">f</text><path d="M405.2 725.6 L411.6 725.6 L412.4 700 L413.6 640 L414.6 606.5 L415.6 605 L416.6 606 L417.6 598 L419.6 589.5 L423 586.6 L426 585.2 L427.1 584.49 L428.21 584.71 L429.31 583.77 L430.41 583.98 L431.51 583.49 L432.62 582.84 L433.72 583.04 L434.82 582.22 L435.92 582.35 L437.03 581.81 L438.13 581.71 L439.23 581.96 L440.33 582.28 L441.44 581.38 L442.54 581.37 L443.64 581.69 L444.74 581.92 L445.85 581.44 L446.95 581.18 L448.05 581.76 L449.15 580.68 L450.26 581.51 L451.36 580.83 L452.46 580.61 L453.56 580.52 L454.67 580.67 L455.77 581.17 L456.87 580.42 L457.97 580.8 L459.08 580.8 L460.18 580.46 L461.28 580.63 L462.38 580.08 L463.49 580.06 L464.59 580.21 L465.69 580.71 L466.79 580.42 L467.9 580.28 L469 580.56 L470.1 580.4 L471.21 580.21 L472.31 580.74 L473.41 580.62 L474.51 580.1 L475.62 580.45 L476.72 580.38 L477.82 580.75 L478.92 580.57 L480.03 580.07 L481.13 580.81 L482.23 579.85 L483.33 580.16 L484.44 580.52 L485.54 579.83 L486.64 580.19 L487.74 579.68 L488.85 580.35 L489.95 580.44 L491.05 580.21 L492.15 580.53 L493.26 579.9 L494.36 580.3 L495.46 580.17 L496.56 580.14 L497.67 579.99 L498.77 580.39 L499.87 580.49 L500.97 579.97 L502.08 580.17 L503.18 579.5 L504.28 580.19 L505.38 580.13 L506.49 580.5 L507.59 580.3 L508.69 579.71 L509.79 579.81 L510.9 580.11 L512 579.39 L513.1 579.87 L514.21 579.54 L515.31 579.48 L516.41 579.41 L517.51 580.18 L518.62 579.47 L519.72 579.59 L520.82 579.74 L521.92 580.26 L523.03 579.39 L524.13 579.78 L525.23 579.89 L526.33 580.25 L527.44 580.17 L528.54 580.21 L529.64 579.56 L530.74 579.7 L531.85 579.63 L532.95 580.2 L534.05 580.28 L535.15 579.38 L536.26 579.4 L537.36 579.46 L538.46 579.45 L539.56 579.72 L540.67 579.83 L541.77 579.46 L542.87 579.17 L543.97 579.62 L545.08 579.56 L546.18 579.77 L547.28 580.18 L548.38 579.89 L549.49 579.69 L550.59 579.79 L551.69 579.85 L552.79 579.16 L553.9 580.08 L555 579.94 L556.1 580.04 L557.21 579.95 L558.31 579.49 L559.41 579.49 L560.51 579.16 L561.62 579.74 L562.72 579.11 L563.82 579.11 L564.92 579.26 L566.03 579.2 L567.13 579.39 L568.23 579.07 L569.33 579 L570.44 579.16 L571.54 579.1 L572.64 579.39 L573.74 579.01 L574.85 579.94 L575.95 579.65 L577.05 579.13 L578.15 579.24 L579.26 579.34 L580.36 579.35 L581.46 579.08 L582.56 579.87 L583.67 580.03 L584.77 579.44 L585.87 579.45 L586.97 579.01 L588.08 579.02 L589.18 579.28 L590.28 579.19 L591.38 579.81 L592.49 579.07 L593.59 578.91 L594.69 579.92 L595.79 579.45 L596.9 579.03 L598 579.46 L599.1 578.89 L600.21 579.43 L601.31 579.92 L602.41 579.79 L603.51 579.6 L604.62 579.12 L605.72 579.23 L606.82 579 L607.92 579.66 L609.03 579.39 L610.13 579.66 L611.23 579.16 L612.33 579.04 L613.44 579.68 L614.54 579.86 L615.64 579.71 L616.74 579.66 L617.85 579.66 L618.95 579.57 L620.05 579 L621.15 579.32 L622.26 579.13 L623.36 578.77 L624.46 578.76 L625.56 579.03 L626.67 579.01 L627.77 579.48 L628.87 579.76 L629.97 579.2 L631.08 579.73 L632.18 579.78 L633.28 579.74 L634.38 579.08 L635.49 578.92 L636.59 578.92 L637.69 578.88 L638.79 578.89 L639.9 579.34 L641 579.64" fill="none" stroke="#b57068" stroke-width="2.4" stroke-linejoin="round" stroke-linecap="round"/><path d="M405 639.98 L406.5 639.95 L408.01 639.83 L409.51 640.29 L411.01 639.8 L412.52 640.12 L414.02 640.38 L415.52 639.92 L417.03 640.22 L418.53 640.29 L420.03 639.97 L421.54 640.19 L423.04 640.41 L424.54 640.28 L426.04 640.47 L427.55 640.16 L429.05 640.23 L430.55 640.19 L432.06 640.49 L433.56 640.8 L435.06 640.66 L436.57 640.83 L438.07 640.65 L439.57 640.93 L441.08 640.6 L442.58 640.78 L444.08 641.07 L445.59 641.23 L447.09 641.29 L448.59 641.33 L450.1 641.67 L451.6 641.72 L453.1 641.85 L454.61 642.26 L456.11 641.99 L457.61 642.49 L459.11 642.57 L460.62 642.17 L462.12 642.45 L463.62 642.61 L465.13 642.42 L466.63 642.75 L468.13 643.13 L469.64 642.75 L471.14 643.13 L472.64 642.93 L474.15 643.3 L475.65 643.58 L477.15 643.25 L478.66 643.22 L480.16 643.36 L481.66 643.7 L483.17 643.46 L484.67 643.58 L486.17 643.9 L487.68 644.23 L489.18 644 L490.68 644.06 L492.18 644.28 L493.69 644.02 L495.19 644.39 L496.69 644.21 L498.2 644.55 L499.7 644.83 L501.2 644.36 L502.71 644.74 L504.21 644.84 L505.71 644.64 L507.22 644.78 L508.72 645.29 L510.22 645.37 L511.73 644.91 L513.23 645.34 L514.73 645.56 L516.24 645.14 L517.74 645.37 L519.24 645.04 L520.75 645.23 L522.25 645.42 L523.75 645.37 L525.25 645.49 L526.76 645.08 L528.26 645.24 L529.76 645.55 L531.27 645.39 L532.77 645.31 L534.27 645.28 L535.78 645.64 L537.28 645.39 L538.78 645.06 L540.29 645.54 L541.79 645.26 L543.29 645.32 L544.8 645.19 L546.3 645.34 L547.8 645.27 L549.31 645.13 L550.81 645.46 L552.31 645.14 L553.82 645.56 L555.32 645.1 L556.82 645.56 L558.32 645.58 L559.83 645.4 L561.33 645.52 L562.83 645.23 L564.34 645.52 L565.84 645.33 L567.34 645.2 L568.85 645.63 L570.35 645.29 L571.85 645.26 L573.36 645.55 L574.86 645.25 L576.36 645.42 L577.87 645.11 L579.37 645.51 L580.87 645.15 L582.38 645.02 L583.88 645.57 L585.38 645.08 L586.89 645.53 L588.39 645.55 L589.89 645.31 L591.39 644.95 L592.9 644.97 L594.4 645.05 L595.9 645.15 L597.41 645.28 L598.91 645.49 L600.41 645.12 L601.92 645 L603.42 645.27 L604.92 645.03 L606.43 645.01 L607.93 645.31 L609.43 645.41 L610.94 645.05 L612.44 645.29 L613.94 645.46 L615.45 645.51 L616.95 645.3 L618.45 645.61 L619.96 645.2 L621.46 645.54 L622.96 645.59 L624.46 645.67 L625.97 645.45 L627.47 645.23 L628.97 645.21 L630.48 645.51 L631.98 645.32 L633.48 645.6 L634.99 645.29 L636.49 645.72 L637.99 645.4 L639.5 645.29 L641 645.41" fill="none" stroke="#4463a6" stroke-width="2.3" stroke-linejoin="round" stroke-linecap="round"/><line x1="405" y1="552.4" x2="641" y2="552.4" stroke="#231815" stroke-width="2.6"/><line x1="405" y1="726.1" x2="641" y2="726.1" stroke="#231815" stroke-width="2.6"/><line x1="460.52" y1="726.1" x2="460.52" y2="722.1" stroke="#231815" stroke-width="1.9"/><line x1="516.04" y1="726.1" x2="516.04" y2="722.1" stroke="#231815" stroke-width="1.9"/><line x1="571.56" y1="726.1" x2="571.56" y2="722.1" stroke="#231815" stroke-width="1.9"/><line x1="627.08" y1="726.1" x2="627.08" y2="722.1" stroke="#231815" stroke-width="1.9"/><line x1="405" y1="551.1" x2="405" y2="727.4" stroke="#4463a6" stroke-width="2.6"/><line x1="405" y1="552.4" x2="409" y2="552.4" stroke="#4463a6" stroke-width="2.6"/><line x1="405" y1="726.1" x2="409" y2="726.1" stroke="#4463a6" stroke-width="2.6"/><line x1="405" y1="582" x2="408.7" y2="582" stroke="#4463a6" stroke-width="1.9"/><line x1="405" y1="611" x2="408.7" y2="611" stroke="#4463a6" stroke-width="1.9"/><line x1="405" y1="640" x2="408.7" y2="640" stroke="#4463a6" stroke-width="1.9"/><line x1="405" y1="669" x2="408.7" y2="669" stroke="#4463a6" stroke-width="1.9"/><line x1="405" y1="698" x2="408.7" y2="698" stroke="#4463a6" stroke-width="1.9"/><line x1="641" y1="551.1" x2="641" y2="727.4" stroke="#b57068" stroke-width="2.6"/><line x1="641" y1="552.4" x2="637" y2="552.4" stroke="#b57068" stroke-width="2.6"/><line x1="641" y1="726.1" x2="637" y2="726.1" stroke="#b57068" stroke-width="2.6"/><line x1="641" y1="586.9" x2="637.3" y2="586.9" stroke="#b57068" stroke-width="1.9"/><line x1="641" y1="621.7" x2="637.3" y2="621.7" stroke="#b57068" stroke-width="1.9"/><line x1="641" y1="656.5" x2="637.3" y2="656.5" stroke="#b57068" stroke-width="1.9"/><line x1="641" y1="691.3" x2="637.3" y2="691.3" stroke="#b57068" stroke-width="1.9"/><text x="398.6" y="557.48" font-size="12.1" font-weight="bold" text-anchor="end" fill="#4463a6" stroke="#4463a6" stroke-width="0.18">15</text><text x="398.6" y="586.48" font-size="12.1" font-weight="bold" text-anchor="end" fill="#4463a6" stroke="#4463a6" stroke-width="0.18">10</text><text x="398.6" y="615.48" font-size="12.1" font-weight="bold" text-anchor="end" fill="#4463a6" stroke="#4463a6" stroke-width="0.18">5</text><text x="398.6" y="644.48" font-size="12.1" font-weight="bold" text-anchor="end" fill="#4463a6" stroke="#4463a6" stroke-width="0.18">0</text><text x="398.6" y="673.48" font-size="12.1" font-weight="bold" text-anchor="end" fill="#4463a6" stroke="#4463a6" stroke-width="0.18">-5</text><text x="398.6" y="702.48" font-size="12.1" font-weight="bold" text-anchor="end" fill="#4463a6" stroke="#4463a6" stroke-width="0.18">-10</text><text x="398.6" y="731.48" font-size="12.1" font-weight="bold" text-anchor="end" fill="#4463a6" stroke="#4463a6" stroke-width="0.18">-15</text><text x="647.4" y="557.03" font-size="12.1" font-weight="bold" text-anchor="start" fill="#b57068" stroke="#b57068" stroke-width="0.18">50</text><text x="647.4" y="591.83" font-size="12.1" font-weight="bold" text-anchor="start" fill="#b57068" stroke="#b57068" stroke-width="0.18">40</text><text x="647.4" y="626.63" font-size="12.1" font-weight="bold" text-anchor="start" fill="#b57068" stroke="#b57068" stroke-width="0.18">30</text><text x="647.4" y="661.43" font-size="12.1" font-weight="bold" text-anchor="start" fill="#b57068" stroke="#b57068" stroke-width="0.18">20</text><text x="647.4" y="696.23" font-size="12.1" font-weight="bold" text-anchor="start" fill="#b57068" stroke="#b57068" stroke-width="0.18">10</text><text x="647.4" y="731.03" font-size="12.1" font-weight="bold" text-anchor="start" fill="#b57068" stroke="#b57068" stroke-width="0.18">0</text><text x="405" y="742" font-size="12.1" font-weight="bold" text-anchor="middle" fill="#231f20" stroke="#231f20" stroke-width="0.18">0</text><text x="460.52" y="742" font-size="12.1" font-weight="bold" text-anchor="middle" fill="#231f20" stroke="#231f20" stroke-width="0.18">200</text><text x="516.04" y="742" font-size="12.1" font-weight="bold" text-anchor="middle" fill="#231f20" stroke="#231f20" stroke-width="0.18">400</text><text x="571.56" y="742" font-size="12.1" font-weight="bold" text-anchor="middle" fill="#231f20" stroke="#231f20" stroke-width="0.18">600</text><text x="627.08" y="742" font-size="12.1" font-weight="bold" text-anchor="middle" fill="#231f20" stroke="#231f20" stroke-width="0.18">800</text><text x="523" y="759.5" font-size="12.2" font-weight="bold" text-anchor="middle" fill="#231f20" stroke="#231f20" stroke-width="0.18" textLength="50.02" lengthAdjust="spacingAndGlyphs">Time (S)</text><text x="365.1" y="639.85" font-size="12.2" font-weight="bold" text-anchor="middle" fill="#4463a6" stroke="#4463a6" stroke-width="0.18" transform="rotate(-90 365.1 639.85)">ΔR/R (%)</text><text x="678.6" y="639.75" font-size="12.2" font-weight="bold" text-anchor="middle" fill="#b57068" stroke="#b57068" stroke-width="0.18" transform="rotate(-90 678.6 639.75)" textLength="147.7" lengthAdjust="spacingAndGlyphs">Gas concentration (ppm)</text><text x="429" y="573.6" font-size="12.4" font-weight="bold" text-anchor="start" fill="#231f20" stroke="#231f20" stroke-width="0.19">Acetone vapor</text></g>
<g id="panel-g"><text x="-0.3" y="795.2" font-size="18" font-weight="bold" text-anchor="start" fill="#231f20" stroke="#231f20" stroke-width="0.27">g</text><path d="M46.9 972.3 L49.1 971.3 L51.3 970.64 L53.5 969.07 L55.7 968.05 L57.9 967.07 L60.1 965.56 L62.3 964.86 L64.5 963.38 L66.7 961.8 L68.9 959.27 L71.1 957.74 L73.3 955.75 L75.5 954.78 L77.7 952.89 L79.9 950.41 L82.1 949.68 L84.3 947.9 L86.5 945.79 L88.7 944.06 L90.9 942.01 L93.1 940.31 L95.3 939.32 L97.5 937.26 L99.7 935.85 L101.9 933.94 L104.1 931.53 L106.3 929.84 L108.5 927.76 L110.7 926.55 L112.9 924.55 L115.1 923.03 L117.3 921.22 L119.5 919.8 L121.7 918 L123.9 916.23 L126.1 915.45 L128.3 913.86 L130.5 912.09 L132.7 910.35 L134.9 908.32 L137.1 906.63 L139.3 904.72 L141.5 902.19 L143.7 900.67 L145.9 897.98 L148.1 896.18 L150.3 894.46 L152.5 893.87 L154.7 892.53 L156.9 890.43 L159.1 889.51 L161.3 888.6 L163.5 884.99 L165.7 882.43 L167.9 880.63 L170.1 879.13 L172.3 878.42 L174.5 876.24 L176.7 874.1 L178.9 872.55 L181.1 871.47 L183.3 870.82 L185.5 869.18 L187.7 866.8 L189.9 865.27 L192.1 863.44 L194.3 861.72 L196.5 860.95 L198.7 858.73 L200.9 857.61 L203.1 855.95 L205.3 854.14 L207.5 853.19 L209.7 850.99 L211.9 850 L214.1 847.87 L216.3 846.66 L218.5 844.88 L220.7 843.4 L222.9 842.65 L225.1 840.95 L227.3 838.88 L229.5 838 L231.7 835.74 L233.9 834.51 L236.1 833.68 L238.3 832.11 L240.5 830.18 L242.7 829.82 L244.9 827.63 L247.1 825.78 L249.3 824.32 L251.5 821.8 L253.7 820.24 L255.9 819.33 L258.1 818.69 L260.3 818.57 L262.5 817.54 L264.7 815.21 L266.9 811.98 L269.1 811.14 L271.3 810.78 L273.5 808.87 L275.7 806.37 L277.9 804.93 L280.1 803.13 L282.3 802.05 L284.5 802.04 L286.7 801.2 L289.5 799.9" fill="none" stroke="#b57068" stroke-width="2.5" stroke-linejoin="round" stroke-linecap="round"/><path d="M46.7 886.16 L47.4 886.76 L48.1 886.76 L48.8 886.99 L49.5 886.06 L50.2 886.12 L50.91 886.01 L51.61 886.12 L52.31 886.83 L53.01 885.98 L53.71 886.54 L54.41 886.1 L55.11 886.21 L55.81 886.4 L56.51 886.97 L57.21 886.65 L57.91 885.82 L58.61 886.19 L59.32 886.01 L60.02 887.02 L60.72 886.93 L61.42 886.93 L62.12 886.96 L62.82 886.84 L63.52 887.13 L64.22 886.91 L64.92 886.16 L65.62 886.99 L66.32 886.48 L67.03 886.86 L67.73 886.59 L68.43 886.4 L69.13 886.31 L69.83 886.4 L70.53 886.24 L71.23 885.96 L71.93 886.95 L72.63 886.92 L73.33 887.18 L74.03 886.77 L74.73 886.58 L75.44 886.85 L76.14 885.99 L76.84 886.75 L77.54 886.42 L78.24 886.05 L78.94 886.08 L79.64 886.53 L80.34 886.15 L81.04 886.44 L81.74 886.65 L82.44 886.35 L83.14 885.98 L83.85 886.49 L84.55 886.13 L85.25 886.13 L85.95 886.07 L86.65 886.31 L87.35 885.9 L88.05 886.71 L88.75 887.14 L89.45 886.35 L90.15 886.81 L90.85 887.11 L91.56 885.86 L92.26 886 L92.96 886.93 L93.66 886.97 L94.36 886.69 L95.06 886.02 L95.76 886.38 L96.46 887.02 L97.16 887.04 L97.86 886.92 L98.56 886.08 L99.26 887 L99.97 886.32 L100.67 886.8 L101.37 885.99 L102.07 887.16 L102.77 886.64 L103.47 886.81 L104.17 886.1 L104.87 886.66 L105.57 886.61 L106.27 886.63 L106.97 886.3 L107.68 886.82 L108.38 886.28 L109.08 886.21 L109.78 886.03 L110.48 886.76 L111.18 885.96 L111.88 886.12 L112.58 885.9 L113.28 886.7 L113.98 886.58 L114.68 886.56 L115.38 885.85 L116.09 886.42 L116.79 886.28 L117.49 885.93 L118.19 885.8 L118.89 887.2 L119.59 885.97 L120.29 886.22 L120.99 886.18 L121.69 886.64 L122.39 885.91 L123.09 886.46 L123.8 886.31 L124.5 886.97 L125.2 885.81 L125.9 886.27 L126.6 886.5 L127.3 887.16 L128 886.52 L128.7 886.46 L129.4 886.74 L130.1 886.22 L130.8 885.84 L131.5 886.5 L132.21 887.07 L132.91 886.83 L133.61 886.16 L134.31 886.76 L135.01 886.99 L135.71 886.16 L136.41 886.62 L137.11 886.3 L137.81 886.14 L138.51 886.2 L139.21 886.09 L139.91 886.29 L140.62 885.85 L141.32 886.36 L142.02 885.92 L142.72 886.86 L143.42 886.64 L144.12 885.81 L144.82 886.88 L145.52 886.07 L146.22 886.47 L146.92 886.58 L147.62 886.27 L148.33 886.21 L149.03 886.41 L149.73 885.99 L150.43 887.01 L151.13 885.96 L151.83 886.95 L152.53 886.11 L153.23 886.22 L153.93 886.34 L154.63 885.85 L155.33 885.98 L156.03 886.31 L156.74 886.42 L157.44 887.03 L158.14 887.19 L158.84 885.86 L159.54 886.55 L160.24 885.98 L160.94 886.93 L161.64 886.25 L162.34 887.05 L163.04 886.56 L163.74 885.98 L164.45 885.81 L165.15 886.15 L165.85 887.02 L166.55 886.01 L167.25 886.47 L167.95 886.32 L168.65 886.28 L169.35 886.92 L170.05 886.1 L170.75 886.81 L171.45 886.73 L172.15 887.11 L172.86 886.53 L173.56 887.09 L174.26 886.42 L174.96 886.6 L175.66 886.67 L176.36 886.98 L177.06 887.06 L177.76 885.96 L178.46 885.99 L179.16 886.55 L179.86 886.94 L180.57 886.55 L181.27 886.22 L181.97 887.15 L182.67 886.22 L183.37 885.92 L184.07 885.87 L184.77 885.84 L185.47 886.82 L186.17 885.95 L186.87 886.8 L187.57 887.01 L188.27 887.2 L188.98 886.93 L189.68 886.39 L190.38 886.67 L191.08 886.97 L191.78 886.8 L192.48 886.21 L193.18 886.87 L193.88 885.95 L194.58 886.23 L195.28 887.19 L195.98 886.46 L196.69 886.17 L197.39 886.9 L198.09 886.43 L198.79 885.81 L199.49 885.84 L200.19 886.16 L200.89 886.26 L201.59 887.11 L202.29 886.15 L202.99 886.99 L203.69 886.99 L204.39 886.38 L205.1 887.19 L205.8 886.87 L206.5 886.48 L207.2 886.17 L207.9 886.45 L208.6 887.06 L209.3 886.55 L210 886.07 L210.7 886.33 L211.4 886.47 L212.1 886.07 L212.8 886.6 L213.51 885.85 L214.21 886.95 L214.91 886.05 L215.61 885.94 L216.31 886.62 L217.01 886.23 L217.71 887.04 L218.41 886.5 L219.11 886.53 L219.81 886.97 L220.51 886.1 L221.22 886.84 L221.92 886.71 L222.62 886.4 L223.32 887.14 L224.02 885.83 L224.72 887.01 L225.42 886 L226.12 886.98 L226.82 886.02 L227.52 885.88 L228.22 886.5 L228.92 887.1 L229.63 886.16 L230.33 886.48 L231.03 886.65 L231.73 886.14 L232.43 886.54 L233.13 885.81 L233.83 886.43 L234.53 886.86 L235.23 886.28 L235.93 886.11 L236.63 885.87 L237.34 886.78 L238.04 886.4 L238.74 887.08 L239.44 886.84 L240.14 885.94 L240.84 887.08 L241.54 887.1 L242.24 886.94 L242.94 886.96 L243.64 886.75 L244.34 886.81 L245.04 886.73 L245.75 886.63 L246.45 886.16 L247.15 885.99 L247.85 886.82 L248.55 886.64 L249.25 885.88 L249.95 886.7 L250.65 886.65 L251.35 886.52 L252.05 886.89 L252.75 887.03 L253.46 886.33 L254.16 886.94 L254.86 886.5 L255.56 886.6 L256.26 886.38 L256.96 887.11 L257.66 886.42 L258.36 887.13 L259.06 886.27 L259.76 886.74 L260.46 887.08 L261.16 886.76 L261.87 886.33 L262.57 885.91 L263.27 886.47 L263.97 886.38 L264.67 886.94 L265.37 886.9 L266.07 887.18 L266.77 886.43 L267.47 886.37 L268.17 886.59 L268.87 886.85 L269.57 885.91 L270.28 886.1 L270.98 886 L271.68 886.25 L272.38 886.22 L273.08 887.16 L273.78 886.09 L274.48 887.11 L275.18 886.21 L275.88 886.09 L276.58 887.16 L277.28 885.92 L277.99 885.96 L278.69 885.98 L279.39 885.89 L280.09 886.34 L280.79 886.1 L281.49 886.02 L282.19 885.82 L282.89 886.78 L283.59 885.87 L284.29 886.12 L284.99 886.59 L285.69 887.04 L286.4 886.72 L287.1 886.79 L287.8 886.78 L288.5 886.92 L289.2 886.99 L289.9 886.02" fill="none" stroke="#4463a6" stroke-width="3.3" stroke-linejoin="round" stroke-linecap="round"/><line x1="46.7" y1="799.6" x2="289.9" y2="799.6" stroke="#231815" stroke-width="2.6"/><line x1="46.7" y1="973.4" x2="289.9" y2="973.4" stroke="#231815" stroke-width="2.6"/><line x1="92.46" y1="973.4" x2="92.46" y2="969.4" stroke="#231815" stroke-width="1.9"/><line x1="138.22" y1="973.4" x2="138.22" y2="969.4" stroke="#231815" stroke-width="1.9"/><line x1="183.98" y1="973.4" x2="183.98" y2="969.4" stroke="#231815" stroke-width="1.9"/><line x1="229.74" y1="973.4" x2="229.74" y2="969.4" stroke="#231815" stroke-width="1.9"/><line x1="275.5" y1="973.4" x2="275.5" y2="969.4" stroke="#231815" stroke-width="1.9"/><line x1="46.7" y1="798.3" x2="46.7" y2="974.7" stroke="#4463a6" stroke-width="2.6"/><line x1="46.7" y1="799.6" x2="50.7" y2="799.6" stroke="#4463a6" stroke-width="2.6"/><line x1="46.7" y1="973.4" x2="50.7" y2="973.4" stroke="#4463a6" stroke-width="2.6"/><line x1="46.7" y1="843.05" x2="50.4" y2="843.05" stroke="#4463a6" stroke-width="1.9"/><line x1="46.7" y1="886.5" x2="50.4" y2="886.5" stroke="#4463a6" stroke-width="1.9"/><line x1="46.7" y1="929.95" x2="50.4" y2="929.95" stroke="#4463a6" stroke-width="1.9"/><line x1="289.9" y1="798.3" x2="289.9" y2="974.7" stroke="#b57068" stroke-width="2.6"/><line x1="289.9" y1="799.6" x2="285.9" y2="799.6" stroke="#b57068" stroke-width="2.6"/><line x1="289.9" y1="973.4" x2="285.9" y2="973.4" stroke="#b57068" stroke-width="2.6"/><line x1="289.9" y1="843.05" x2="286.2" y2="843.05" stroke="#b57068" stroke-width="1.9"/><line x1="289.9" y1="886.5" x2="286.2" y2="886.5" stroke="#b57068" stroke-width="1.9"/><line x1="289.9" y1="929.95" x2="286.2" y2="929.95" stroke="#b57068" stroke-width="1.9"/><text x="40.3" y="804.08" font-size="12.1" font-weight="bold" text-anchor="end" fill="#4463a6" stroke="#4463a6" stroke-width="0.18">10</text><text x="40.3" y="847.53" font-size="12.1" font-weight="bold" text-anchor="end" fill="#4463a6" stroke="#4463a6" stroke-width="0.18">5</text><text x="40.3" y="890.98" font-size="12.1" font-weight="bold" text-anchor="end" fill="#4463a6" stroke="#4463a6" stroke-width="0.18">0</text><text x="40.3" y="934.43" font-size="12.1" font-weight="bold" text-anchor="end" fill="#4463a6" stroke="#4463a6" stroke-width="0.18">-5</text><text x="40.3" y="977.88" font-size="12.1" font-weight="bold" text-anchor="end" fill="#4463a6" stroke="#4463a6" stroke-width="0.18">-10</text><text x="295.3" y="804.63" font-size="12.1" font-weight="bold" text-anchor="start" fill="#b57068" stroke="#b57068" stroke-width="0.18">100</text><text x="295.3" y="848.08" font-size="12.1" font-weight="bold" text-anchor="start" fill="#b57068" stroke="#b57068" stroke-width="0.18">75</text><text x="295.3" y="891.53" font-size="12.1" font-weight="bold" text-anchor="start" fill="#b57068" stroke="#b57068" stroke-width="0.18">50</text><text x="295.3" y="934.98" font-size="12.1" font-weight="bold" text-anchor="start" fill="#b57068" stroke="#b57068" stroke-width="0.18">25</text><text x="295.3" y="978.43" font-size="12.1" font-weight="bold" text-anchor="start" fill="#b57068" stroke="#b57068" stroke-width="0.18">0</text><text x="46.7" y="989.2" font-size="12.1" font-weight="bold" text-anchor="middle" fill="#231f20" stroke="#231f20" stroke-width="0.18">0</text><text x="92.46" y="989.2" font-size="12.1" font-weight="bold" text-anchor="middle" fill="#231f20" stroke="#231f20" stroke-width="0.18">20</text><text x="138.22" y="989.2" font-size="12.1" font-weight="bold" text-anchor="middle" fill="#231f20" stroke="#231f20" stroke-width="0.18">40</text><text x="183.98" y="989.2" font-size="12.1" font-weight="bold" text-anchor="middle" fill="#231f20" stroke="#231f20" stroke-width="0.18">60</text><text x="229.74" y="989.2" font-size="12.1" font-weight="bold" text-anchor="middle" fill="#231f20" stroke="#231f20" stroke-width="0.18">80</text><text x="275.5" y="989.2" font-size="12.1" font-weight="bold" text-anchor="middle" fill="#231f20" stroke="#231f20" stroke-width="0.18">100</text><text x="168" y="1005.8" font-size="12.2" font-weight="bold" text-anchor="middle" fill="#231f20" stroke="#231f20" stroke-width="0.18" textLength="50.02" lengthAdjust="spacingAndGlyphs">Time (S)</text><text x="10.8" y="887.1" font-size="12.2" font-weight="bold" text-anchor="middle" fill="#4463a6" stroke="#4463a6" stroke-width="0.18" transform="rotate(-90 10.8 887.1)">ΔR/R (%)</text><text x="333" y="887" font-size="12.2" font-weight="bold" text-anchor="middle" fill="#b57068" stroke="#b57068" stroke-width="0.18" transform="rotate(-90 333 887)" textLength="147.7" lengthAdjust="spacingAndGlyphs">Gas concentration (ppm)</text><text x="66.4" y="825.2" font-size="12.4" font-weight="bold" fill="#231f20" stroke="#231f20" stroke-width="0.15">NH<tspan font-size="8.4" dy="2.8">3</tspan></text></g>
<g id="panel-h"><text x="354.5" y="795.4" font-size="18" font-weight="bold" text-anchor="start" fill="#231f20" stroke="#231f20" stroke-width="0.27">h</text><path d="M405.4 973.4 L409 970.6 L415.8 968.6 L430 967.6 L448.5 966.4 L465 965 L487.4 962.6 L503.7 956.6 L513 953.8 L528 945.8 L540.6 942.8 L546.9 937 L560.7 929.4 L568.2 921.9 L577 916.9 L585.8 906.4 L595.9 900.1 L600.9 886.8 L605 880.5 L609.7 875.4 L616.4 871.7 L621 860.4 L626 852.3 L631 846.6 L638.2 833.4" fill="none" stroke="#b57068" stroke-width="2.4" stroke-linejoin="round" stroke-linecap="round"/><path d="M405 888 L405.5 888 L406 888 L406.5 888 L407 888 L407.5 888 L408 888 L408.5 888 L409 888 L409.5 888 L410 888 L410.5 888 L411 888 L411.5 888.44 L412 889.17 L412.5 889.9 L413 889.17 L413.5 888.44 L414 888 L414.5 888 L415 888 L415.5 888 L416 888 L416.5 888 L417 888 L417.5 888 L418 888 L418.5 888 L419 888 L419.5 888 L420 888 L420.5 888.47 L421 889.2 L421.5 889.87 L422 889.14 L422.5 888.41 L423 888 L423.5 888 L424 888 L424.5 888 L425 888 L425.5 888 L426 888 L426.5 888 L427 888 L427.5 888 L428 888 L428.5 888 L429 888 L429.5 888.5 L430 889.23 L430.5 889.84 L431 889.11 L431.5 888.38 L432 888 L432.5 888 L433 888 L433.5 888 L434 888 L434.5 888 L435 888 L435.5 888 L436 888 L436.5 888 L437 888 L437.5 888 L438 888 L438.5 888.53 L439 889.26 L439.5 889.81 L440 889.08 L440.5 888.35 L441 888 L441.5 888 L442 888 L442.5 888 L443 888 L443.5 888 L444 888 L444.5 888 L445 888 L445.5 888 L446 888 L446.5 888 L447 888 L447.5 888.56 L448 889.29 L448.5 889.78 L449 889.05 L449.5 888.32 L450 888 L450.5 888 L451 888 L451.5 888 L452 888 L452.5 888 L453 888 L453.5 888 L454 888 L454.5 888 L455 888 L455.5 888 L456 888 L456.5 888.58 L457 889.32 L457.5 889.75 L458 889.02 L458.5 888.29 L459 888 L459.5 888 L460 888 L460.5 888 L461 888 L461.5 888 L462 888 L462.5 888 L463 888 L463.5 888 L464 888 L464.5 888 L465 888 L465.5 888.61 L466 889.34 L466.5 889.72 L467 888.99 L467.5 888.26 L468 888 L468.5 888 L469 888 L469.5 888 L470 888 L470.5 888 L471 888 L471.5 888 L472 888 L472.5 888 L473 888 L473.5 888 L474 888 L474.5 888.64 L475 889.37 L475.5 889.7 L476 888.96 L476.5 888.23 L477 888 L477.5 888 L478 888 L478.5 888 L479 888 L479.5 888 L480 888 L480.5 888 L481 888 L481.5 888 L482 888 L482.5 888 L483 888 L483.5 888.67 L484 889.4 L484.5 889.67 L485 888.94 L485.5 888.2 L486 888 L486.5 888 L487 888 L487.5 888 L488 888 L488.5 888 L489 888 L489.5 888 L490 888 L490.5 888 L491 888 L491.5 888 L492 888 L492.5 888.7 L493 889.43 L493.5 889.64 L494 888.91 L494.5 888.18 L495 888 L495.5 888 L496 888 L496.5 888 L497 888 L497.5 888 L498 888 L498.5 888 L499 888 L499.5 888 L500 888 L500.5 888 L501 888 L501.5 888.73 L502 889.46 L502.5 889.61 L503 888.88 L503.5 888.15 L504 888 L504.5 888 L505 888 L505.5 888 L506 888 L506.5 888 L507 888 L507.5 888 L508 888 L508.5 888 L509 888 L509.5 888 L510 888.03 L510.5 888.76 L511 889.49 L511.5 889.58 L512 888.85 L512.5 888.12 L513 888 L513.5 888 L514 888 L514.5 888 L515 888 L515.5 888 L516 888 L516.5 888 L517 888 L517.5 888 L518 888 L518.5 888 L519 888.06 L519.5 888.79 L520 889.52 L520.5 889.55 L521 888.82 L521.5 888.09 L522 888 L522.5 888 L523 888 L523.5 888 L524 888 L524.5 888 L525 888 L525.5 888 L526 888 L526.5 888 L527 888 L527.5 888 L528 888.09 L528.5 888.82 L529 889.55 L529.5 889.52 L530 888.79 L530.5 888.06 L531 888 L531.5 888 L532 888 L532.5 888 L533 888 L533.5 888 L534 888 L534.5 888 L535 888 L535.5 888 L536 888 L536.5 888 L537 888.12 L537.5 888.85 L538 889.58 L538.5 889.49 L539 888.76 L539.5 888.03 L540 888 L540.5 888 L541 888 L541.5 888 L542 888 L542.5 888 L543 888 L543.5 888 L544 888 L544.5 888 L545 888 L545.5 888 L546 888.15 L546.5 888.88 L547 889.61 L547.5 889.46 L548 888.73 L548.5 888 L549 888 L549.5 888 L550 888 L550.5 888 L551 888 L551.5 888 L552 888 L552.5 888 L553 888 L553.5 888 L554 888 L554.5 888 L555 888.18 L555.5 888.91 L556 889.64 L556.5 889.43 L557 888.7 L557.5 888 L558 888 L558.5 888 L559 888 L559.5 888 L560 888 L560.5 888 L561 888 L561.5 888 L562 888 L562.5 888 L563 888 L563.5 888 L564 888.2 L564.5 888.94 L565 889.67 L565.5 889.4 L566 888.67 L566.5 888 L567 888 L567.5 888 L568 888 L568.5 888 L569 888 L569.5 888 L570 888 L570.5 888 L571 888 L571.5 888 L572 888 L572.5 888 L573 888.23 L573.5 888.96 L574 889.7 L574.5 889.37 L575 888.64 L575.5 888 L576 888 L576.5 888 L577 888 L577.5 888 L578 888 L578.5 888 L579 888 L579.5 888 L580 888 L580.5 888 L581 888 L581.5 888 L582 888.26 L582.5 888.99 L583 889.72 L583.5 889.34 L584 888.61 L584.5 888 L585 888 L585.5 888 L586 888 L586.5 888 L587 888 L587.5 888 L588 888 L588.5 888 L589 888 L589.5 888 L590 888 L590.5 888 L591 888.29 L591.5 889.02 L592 889.75 L592.5 889.32 L593 888.58 L593.5 888 L594 888 L594.5 888 L595 888 L595.5 888 L596 888 L596.5 888 L597 888 L597.5 888 L598 888 L598.5 888 L599 888 L599.5 888 L600 888.32 L600.5 889.05 L601 889.78 L601.5 889.29 L602 888.56 L602.5 888 L603 888 L603.5 888 L604 888 L604.5 888 L605 888 L605.5 888 L606 888 L606.5 888 L607 888 L607.5 888 L608 888 L608.5 888 L609 888.35 L609.5 889.08 L610 889.81 L610.5 889.26 L611 888.53 L611.5 888 L612 888 L612.5 888 L613 888 L613.5 888 L614 888 L614.5 888 L615 888 L615.5 888 L616 888 L616.5 888 L617 888 L617.5 888 L618 888.38 L618.5 889.11 L619 889.84 L619.5 889.23 L620 888.5 L620.5 888 L621 888 L621.5 888 L622 888 L622.5 888 L623 888 L623.5 888 L624 888 L624.5 888 L625 888 L625.5 888 L626 888 L626.5 888 L627 888.41 L627.5 889.14 L628 889.87 L628.5 889.2 L629 888.47 L629.5 888 L630 888 L630.5 888 L631 888 L631.5 888 L632 888 L632.5 888 L633 888 L633.5 888 L634 888 L634.5 888 L635 888 L635.5 888 L636 888.44 L636.5 889.17 L637 889.9 L637.5 889.17 L638 888.44 L638.5 888" fill="none" stroke="#4463a6" stroke-width="2" stroke-linejoin="round" stroke-linecap="round"/><line x1="405" y1="803.1" x2="638.5" y2="803.1" stroke="#231815" stroke-width="2.6"/><line x1="405" y1="974.1" x2="638.5" y2="974.1" stroke="#231815" stroke-width="2.6"/><line x1="449.9" y1="974.1" x2="449.9" y2="970.1" stroke="#231815" stroke-width="1.9"/><line x1="494.8" y1="974.1" x2="494.8" y2="970.1" stroke="#231815" stroke-width="1.9"/><line x1="539.7" y1="974.1" x2="539.7" y2="970.1" stroke="#231815" stroke-width="1.9"/><line x1="584.6" y1="974.1" x2="584.6" y2="970.1" stroke="#231815" stroke-width="1.9"/><line x1="629.5" y1="974.1" x2="629.5" y2="970.1" stroke="#231815" stroke-width="1.9"/><line x1="405" y1="801.8" x2="405" y2="975.4" stroke="#4463a6" stroke-width="2.6"/><line x1="405" y1="803.1" x2="409" y2="803.1" stroke="#4463a6" stroke-width="2.6"/><line x1="405" y1="974.1" x2="409" y2="974.1" stroke="#4463a6" stroke-width="2.6"/><line x1="405" y1="845.75" x2="408.7" y2="845.75" stroke="#4463a6" stroke-width="1.9"/><line x1="405" y1="888.5" x2="408.7" y2="888.5" stroke="#4463a6" stroke-width="1.9"/><line x1="405" y1="931.25" x2="408.7" y2="931.25" stroke="#4463a6" stroke-width="1.9"/><line x1="638.5" y1="801.8" x2="638.5" y2="975.4" stroke="#b57068" stroke-width="2.6"/><line x1="638.5" y1="803.1" x2="634.5" y2="803.1" stroke="#b57068" stroke-width="2.6"/><line x1="638.5" y1="974.1" x2="634.5" y2="974.1" stroke="#b57068" stroke-width="2.6"/><line x1="638.5" y1="831.6" x2="634.8" y2="831.6" stroke="#b57068" stroke-width="1.9"/><line x1="638.5" y1="860.1" x2="634.8" y2="860.1" stroke="#b57068" stroke-width="1.9"/><line x1="638.5" y1="888.6" x2="634.8" y2="888.6" stroke="#b57068" stroke-width="1.9"/><line x1="638.5" y1="917.1" x2="634.8" y2="917.1" stroke="#b57068" stroke-width="1.9"/><line x1="638.5" y1="945.6" x2="634.8" y2="945.6" stroke="#b57068" stroke-width="1.9"/><text x="398.6" y="807.48" font-size="12.1" font-weight="bold" text-anchor="end" fill="#4463a6" stroke="#4463a6" stroke-width="0.18">10</text><text x="398.6" y="850.23" font-size="12.1" font-weight="bold" text-anchor="end" fill="#4463a6" stroke="#4463a6" stroke-width="0.18">5</text><text x="398.6" y="892.98" font-size="12.1" font-weight="bold" text-anchor="end" fill="#4463a6" stroke="#4463a6" stroke-width="0.18">0</text><text x="398.6" y="935.73" font-size="12.1" font-weight="bold" text-anchor="end" fill="#4463a6" stroke="#4463a6" stroke-width="0.18">-5</text><text x="398.6" y="978.48" font-size="12.1" font-weight="bold" text-anchor="end" fill="#4463a6" stroke="#4463a6" stroke-width="0.18">-10</text><text x="644" y="807.23" font-size="12.1" font-weight="bold" text-anchor="start" fill="#b57068" stroke="#b57068" stroke-width="0.18">60</text><text x="644" y="835.73" font-size="12.1" font-weight="bold" text-anchor="start" fill="#b57068" stroke="#b57068" stroke-width="0.18">50</text><text x="644" y="864.23" font-size="12.1" font-weight="bold" text-anchor="start" fill="#b57068" stroke="#b57068" stroke-width="0.18">40</text><text x="644" y="892.73" font-size="12.1" font-weight="bold" text-anchor="start" fill="#b57068" stroke="#b57068" stroke-width="0.18">30</text><text x="644" y="921.23" font-size="12.1" font-weight="bold" text-anchor="start" fill="#b57068" stroke="#b57068" stroke-width="0.18">20</text><text x="644" y="949.73" font-size="12.1" font-weight="bold" text-anchor="start" fill="#b57068" stroke="#b57068" stroke-width="0.18">10</text><text x="644" y="978.23" font-size="12.1" font-weight="bold" text-anchor="start" fill="#b57068" stroke="#b57068" stroke-width="0.18">0</text><text x="405" y="989.2" font-size="12.1" font-weight="bold" text-anchor="middle" fill="#231f20" stroke="#231f20" stroke-width="0.18">0</text><text x="449.9" y="989.2" font-size="12.1" font-weight="bold" text-anchor="middle" fill="#231f20" stroke="#231f20" stroke-width="0.18">5</text><text x="494.8" y="989.2" font-size="12.1" font-weight="bold" text-anchor="middle" fill="#231f20" stroke="#231f20" stroke-width="0.18">10</text><text x="539.7" y="989.2" font-size="12.1" font-weight="bold" text-anchor="middle" fill="#231f20" stroke="#231f20" stroke-width="0.18">15</text><text x="584.6" y="989.2" font-size="12.1" font-weight="bold" text-anchor="middle" fill="#231f20" stroke="#231f20" stroke-width="0.18">20</text><text x="629.5" y="989.2" font-size="12.1" font-weight="bold" text-anchor="middle" fill="#231f20" stroke="#231f20" stroke-width="0.18">25</text><text x="521.5" y="1005.8" font-size="12.2" font-weight="bold" text-anchor="middle" fill="#231f20" stroke="#231f20" stroke-width="0.18" textLength="50.02" lengthAdjust="spacingAndGlyphs">Time (S)</text><text x="365.1" y="889.2" font-size="12.2" font-weight="bold" text-anchor="middle" fill="#4463a6" stroke="#4463a6" stroke-width="0.18" transform="rotate(-90 365.1 889.2)">ΔR/R (%)</text><text x="675.3" y="889.1" font-size="12.2" font-weight="bold" text-anchor="middle" fill="#b57068" stroke="#b57068" stroke-width="0.18" transform="rotate(-90 675.3 889.1)" textLength="147.7" lengthAdjust="spacingAndGlyphs">Gas concentration (ppm)</text><text x="424.6" y="827" font-size="12.4" font-weight="bold" text-anchor="start" fill="#231f20" stroke="#231f20" stroke-width="0.19">HCl</text></g>
</svg>
</body>
</html>
